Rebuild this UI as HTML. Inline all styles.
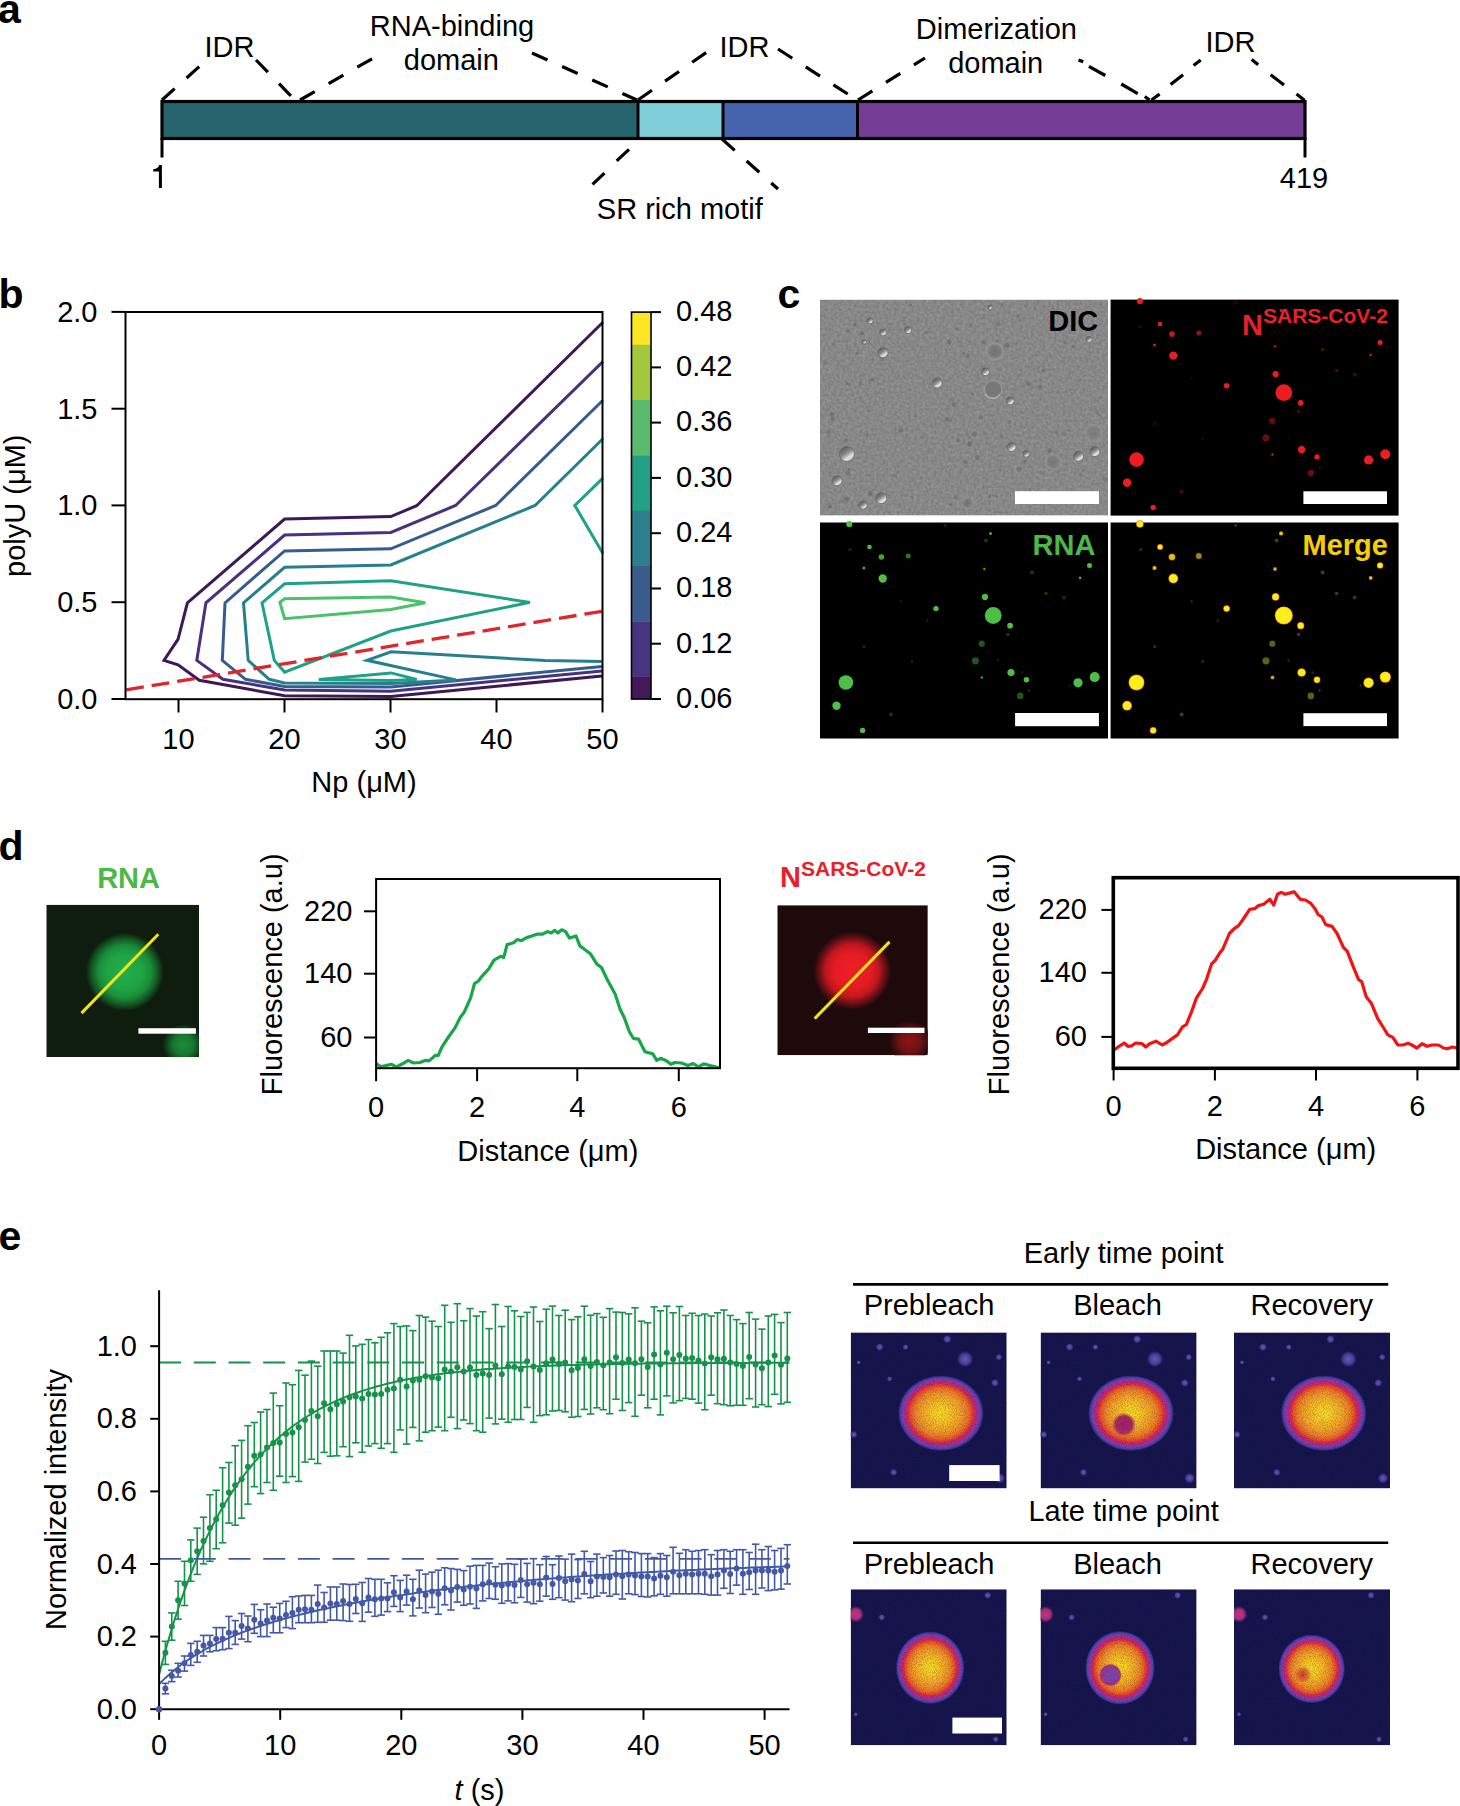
<!DOCTYPE html>
<html><head><meta charset="utf-8"><style>
html,body{margin:0;padding:0;background:#fff;overflow:hidden;}
svg{display:block;}
text{font-family:"Liberation Sans",sans-serif;}
</style></head><body>
<svg width="1460" height="1806" viewBox="0 0 1460 1806" font-family="Liberation Sans, sans-serif">
<defs><filter id="grain" x="0" y="0" width="100%" height="100%" color-interpolation-filters="sRGB">
<feTurbulence type="fractalNoise" baseFrequency="0.35" numOctaves="2" seed="3" result="n"/>
<feColorMatrix in="n" type="matrix" values="1.2 0 0 0 -0.07  1.2 0 0 0 -0.07  1.2 0 0 0 -0.07  0 0 0 0 1" result="g"/>
<feComposite in="g" in2="SourceGraphic" operator="in"/>
</filter><filter id="blur1"><feGaussianBlur stdDeviation="0.6"/></filter><filter id="blur2"><feGaussianBlur stdDeviation="1.2"/></filter><clipPath id="cdic"><rect x="820" y="299.6" width="288" height="216"/></clipPath><linearGradient id="dicg" x1="0.2" y1="0.1" x2="0.75" y2="0.9"><stop offset="0" stop-color="#5a5a5a"/><stop offset="0.45" stop-color="#8a8a8a"/><stop offset="0.8" stop-color="#e6e6e6"/><stop offset="1" stop-color="#bdbdbd"/></linearGradient><radialGradient id="dicr"><stop offset="0" stop-color="#6a6a6a"/><stop offset="0.6" stop-color="#7a7a7a"/><stop offset="0.85" stop-color="#9a9a9a"/><stop offset="1" stop-color="#888" stop-opacity="0"/></radialGradient><radialGradient id="gblob"><stop offset="0" stop-color="#22ae4a"/><stop offset="0.45" stop-color="#1fa444"/><stop offset="0.68" stop-color="#1a8c38"/><stop offset="0.84" stop-color="#145a24"/><stop offset="1" stop-color="#0f1d0f"/></radialGradient><radialGradient id="gblob2"><stop offset="0" stop-color="#1a8e3a"/><stop offset="0.5" stop-color="#167530"/><stop offset="1" stop-color="#0f1d0f"/></radialGradient><radialGradient id="rblob"><stop offset="0" stop-color="#f01e28"/><stop offset="0.45" stop-color="#e41c24"/><stop offset="0.68" stop-color="#c0161e"/><stop offset="0.84" stop-color="#6a1014"/><stop offset="1" stop-color="#1e0a0b"/></radialGradient><radialGradient id="rblob2"><stop offset="0" stop-color="#8a1418"/><stop offset="0.5" stop-color="#701216"/><stop offset="1" stop-color="#1e0a0b"/></radialGradient><clipPath id="cdg"><rect x="46.3" y="904.7" width="152.7" height="152.3"/></clipPath><clipPath id="cdr"><rect x="777.3" y="905.2" width="150.5" height="150.1"/></clipPath><radialGradient id="frap"><stop offset="0" stop-color="#fce024"/><stop offset="0.2" stop-color="#fbcc24"/><stop offset="0.45" stop-color="#f6a626"/><stop offset="0.6" stop-color="#f28426"/><stop offset="0.7" stop-color="#ec5a28"/><stop offset="0.77" stop-color="#dc2c46"/><stop offset="0.83" stop-color="#b82888"/><stop offset="0.89" stop-color="#8040b4"/><stop offset="0.95" stop-color="#4a40a2"/><stop offset="1" stop-color="#141349"/></radialGradient><radialGradient id="fdot"><stop offset="0" stop-color="#6a56b8"/><stop offset="0.6" stop-color="#4a3c98"/><stop offset="1" stop-color="#141349"/></radialGradient><radialGradient id="pdot"><stop offset="0" stop-color="#d0306a"/><stop offset="0.6" stop-color="#a03080"/><stop offset="1" stop-color="#141349"/></radialGradient><radialGradient id="bspot"><stop offset="0" stop-color="#a02070"/><stop offset="0.7" stop-color="#b02a60"/><stop offset="1" stop-color="#b02a60" stop-opacity="0"/></radialGradient><radialGradient id="bspot2"><stop offset="0" stop-color="#7a48aa"/><stop offset="0.6" stop-color="#8a44a4"/><stop offset="0.85" stop-color="#b03282"/><stop offset="1" stop-color="#c83060" stop-opacity="0"/></radialGradient><radialGradient id="bspot3"><stop offset="0" stop-color="#d03a30"/><stop offset="0.7" stop-color="#e05a2a" stop-opacity="0.6"/><stop offset="1" stop-color="#f08a2a" stop-opacity="0"/></radialGradient><filter id="speck" x="0" y="0" width="100%" height="100%" color-interpolation-filters="sRGB"><feTurbulence type="fractalNoise" baseFrequency="1.1" numOctaves="1" seed="9" result="n"/><feColorMatrix in="n" type="matrix" values="0 0 0 0 0.1  0 0 0 0 0.05  0 0 0 0 0.2  2.2 0 0 0 -0.9"/><feComposite in2="SourceGraphic" operator="in"/></filter><filter id="fnoise" x="0" y="0" width="100%" height="100%" color-interpolation-filters="sRGB"><feTurbulence type="fractalNoise" baseFrequency="0.8" numOctaves="1" seed="5" result="n"/><feColorMatrix in="n" type="matrix" values="0 0 0 0 0.16  0 0 0 0 0.14  0 0 0 0 0.4  1.2 0 0 0 -0.45"/><feComposite in2="SourceGraphic" operator="in"/></filter><clipPath id="cf8501332"><rect x="850.7" y="1332.4" width="156" height="156"/></clipPath><clipPath id="cf10401332"><rect x="1040.6" y="1332.4" width="156" height="156"/></clipPath><clipPath id="cf12341332"><rect x="1234" y="1332.4" width="156" height="156"/></clipPath><clipPath id="cf8501589"><rect x="850.7" y="1589.3" width="156" height="156"/></clipPath><clipPath id="cf10401589"><rect x="1040.6" y="1589.3" width="156" height="156"/></clipPath><clipPath id="cf12341589"><rect x="1234" y="1589.3" width="156" height="156"/></clipPath></defs>
<rect width="1460" height="1806" fill="#fff"/>
<text x="-2.0" y="22.6" font-size="41" text-anchor="start" font-weight="bold" fill="#000" >a</text>
<text x="-1.5" y="307.6" font-size="41" text-anchor="start" font-weight="bold" fill="#000" >b</text>
<text x="777.5" y="307.5" font-size="41" text-anchor="start" font-weight="bold" fill="#000" >c</text>
<text x="-1.5" y="860.3" font-size="41" text-anchor="start" font-weight="bold" fill="#000" >d</text>
<text x="-1.5" y="1249.8" font-size="41" text-anchor="start" font-weight="bold" fill="#000" >e</text>
<g id="pa">
<rect x="162" y="101.5" width="476" height="37" fill="#25646c"/>
<rect x="638" y="101.5" width="85" height="37" fill="#7ecfda"/>
<rect x="723" y="101.5" width="134.5" height="37" fill="#4663ad"/>
<rect x="857.5" y="101.5" width="447.5" height="37" fill="#763d96"/>
<rect x="162" y="101.5" width="1143" height="37" fill="none" stroke="#000" stroke-width="3.2"/>
<line x1="638.0" y1="101.5" x2="638.0" y2="138.5" stroke="#000" stroke-width="3" />
<line x1="723.0" y1="101.5" x2="723.0" y2="138.5" stroke="#000" stroke-width="3" />
<line x1="857.5" y1="101.5" x2="857.5" y2="138.5" stroke="#000" stroke-width="3" />
<line x1="162.0" y1="138.0" x2="162.0" y2="157.5" stroke="#000" stroke-width="3" />
<line x1="1305.0" y1="138.0" x2="1305.0" y2="157.5" stroke="#000" stroke-width="3" />
<line x1="162.0" y1="100.0" x2="201.0" y2="65.0" stroke="#000" stroke-width="3.2" stroke-dasharray="17 16"/>
<line x1="256.0" y1="60.0" x2="293.0" y2="98.0" stroke="#000" stroke-width="3.2" stroke-dasharray="17 16"/>
<line x1="300.0" y1="100.0" x2="376.0" y2="56.5" stroke="#000" stroke-width="3.2" stroke-dasharray="17 16"/>
<line x1="532.0" y1="53.0" x2="637.0" y2="100.0" stroke="#000" stroke-width="3.2" stroke-dasharray="17 16"/>
<line x1="638.0" y1="100.0" x2="707.0" y2="52.0" stroke="#000" stroke-width="3.2" stroke-dasharray="17 16"/>
<line x1="778.0" y1="49.0" x2="857.0" y2="100.0" stroke="#000" stroke-width="3.2" stroke-dasharray="17 16"/>
<line x1="858.0" y1="100.0" x2="925.0" y2="58.0" stroke="#000" stroke-width="3.2" stroke-dasharray="17 16"/>
<line x1="722.0" y1="139.0" x2="778.0" y2="189.0" stroke="#000" stroke-width="3.2" stroke-dasharray="17 16"/>
<line x1="629.0" y1="149.4" x2="616.7" y2="160.9" stroke="#000" stroke-width="3.2" />
<line x1="604.5" y1="173.1" x2="592.5" y2="184.3" stroke="#000" stroke-width="3.2" />
<line x1="1078.5" y1="59.9" x2="1083.2" y2="61.8" stroke="#000" stroke-width="3.2" />
<line x1="1088.9" y1="66.4" x2="1105.3" y2="75.5" stroke="#000" stroke-width="3.2" />
<line x1="1121.3" y1="84.0" x2="1137.7" y2="93.6" stroke="#000" stroke-width="3.2" />
<line x1="1144.8" y1="96.5" x2="1149.5" y2="100.0" stroke="#000" stroke-width="3.2" />
<line x1="1151.5" y1="100.0" x2="1159.6" y2="94.1" stroke="#000" stroke-width="3.2" />
<line x1="1170.6" y1="84.5" x2="1183.1" y2="74.7" stroke="#000" stroke-width="3.2" />
<line x1="1193.6" y1="65.6" x2="1200.7" y2="59.9" stroke="#000" stroke-width="3.2" />
<line x1="1251.7" y1="59.5" x2="1258.2" y2="64.8" stroke="#000" stroke-width="3.2" />
<line x1="1270.6" y1="74.7" x2="1284.0" y2="84.9" stroke="#000" stroke-width="3.2" />
<line x1="1296.5" y1="94.1" x2="1304.5" y2="100.2" stroke="#000" stroke-width="3.2" />
<text x="229.5" y="57.0" font-size="29" text-anchor="middle" font-weight="normal" fill="#000" >IDR</text>
<text x="452.0" y="35.6" font-size="29" text-anchor="middle" font-weight="normal" fill="#000" >RNA-binding</text>
<text x="451.4" y="70.0" font-size="29" text-anchor="middle" font-weight="normal" fill="#000" >domain</text>
<text x="744.5" y="57.0" font-size="29" text-anchor="middle" font-weight="normal" fill="#000" >IDR</text>
<text x="996.4" y="38.7" font-size="29" text-anchor="middle" font-weight="normal" fill="#000" >Dimerization</text>
<text x="995.7" y="73.0" font-size="29" text-anchor="middle" font-weight="normal" fill="#000" >domain</text>
<text x="1230.5" y="52.0" font-size="29" text-anchor="middle" font-weight="normal" fill="#000" >IDR</text>
<text x="679.8" y="219.0" font-size="29" text-anchor="middle" font-weight="normal" fill="#000" >SR rich motif</text>
<path d="M161.9,165.1 L161.9,187.9 L158.9,187.9 L158.9,171.6 L153.2,171.6 L153.2,169.2 C156.5,169.2 158.6,167.6 159.2,165.1 Z" fill="#000"/>
<text x="1304.0" y="187.7" font-size="29" text-anchor="middle" font-weight="normal" fill="#000" >419</text>
</g>
<g id="pb">
<polyline points="602.9,322.3 416.7,505.7 390.8,516.6 284.6,519.0 187.4,602.9 178.1,639.2 164.0,660.4 178.1,664.9 199.3,680.3 284.6,695.7 390.8,696.5 602.0,676.0" fill="none" stroke="#3f1856" stroke-width="3" stroke-linejoin="miter" />
<polyline points="602.9,361.6 455.6,505.5 390.8,532.4 284.6,535.0 205.9,602.9 196.8,660.4 222.9,679.3 284.6,690.0 390.8,691.2 602.0,670.9" fill="none" stroke="#46327e" stroke-width="3" stroke-linejoin="miter" />
<polyline points="602.9,400.3 495.7,505.5 390.8,548.8 284.6,550.9 225.0,602.9 222.3,660.4 245.5,679.3 284.6,686.5 390.8,687.0 602.0,666.4" fill="none" stroke="#365c8d" stroke-width="3" stroke-linejoin="miter" />
<polyline points="602.9,438.7 535.1,505.5 390.8,564.9 284.6,567.3 243.5,602.9 248.2,660.4 269.2,679.3 284.6,683.0 390.8,683.5 455.9,679.9 367.0,660.3 391.1,651.8 545.4,660.5 602.0,661.5" fill="none" stroke="#277f8e" stroke-width="3" stroke-linejoin="miter" />
<polygon points="262.0,602.9 284.6,583.8 390.8,580.7 529.9,602.4 390.8,631.0 284.6,672.1 274.3,660.4" fill="none" stroke="#1fa187" stroke-width="3" stroke-linejoin="miter" />
<polyline points="602.9,478.1 574.8,505.5 602.9,553.4" fill="none" stroke="#1fa187" stroke-width="3" stroke-linejoin="miter" />
<polygon points="318.8,679.5 391.1,672.9 416.7,679.5 391.1,680.5" fill="none" stroke="#1fa187" stroke-width="3" stroke-linejoin="miter" />
<polygon points="279.9,602.3 284.6,598.8 390.8,597.1 425.3,602.7 390.8,609.4 284.6,618.7" fill="none" stroke="#4ac16d" stroke-width="3" stroke-linejoin="miter" />
<line x1="125.5" y1="690.0" x2="602.5" y2="611.2" stroke="#e0262a" stroke-width="3.3" stroke-dasharray="17.8 8" stroke-dashoffset="-0.7"/>
<rect x="125.5" y="312" width="477.0" height="387.20000000000005" fill="none" stroke="#000" stroke-width="2"/>
<line x1="111.5" y1="699.0" x2="125.5" y2="699.0" stroke="#000" stroke-width="2" />
<text x="97.5" y="708.8" font-size="29" text-anchor="end" font-weight="normal" fill="#000" >0.0</text>
<line x1="111.5" y1="602.2" x2="125.5" y2="602.2" stroke="#000" stroke-width="2" />
<text x="97.5" y="612.0" font-size="29" text-anchor="end" font-weight="normal" fill="#000" >0.5</text>
<line x1="111.5" y1="505.4" x2="125.5" y2="505.4" stroke="#000" stroke-width="2" />
<text x="97.5" y="515.2" font-size="29" text-anchor="end" font-weight="normal" fill="#000" >1.0</text>
<line x1="111.5" y1="408.7" x2="125.5" y2="408.7" stroke="#000" stroke-width="2" />
<text x="97.5" y="418.5" font-size="29" text-anchor="end" font-weight="normal" fill="#000" >1.5</text>
<line x1="111.5" y1="311.9" x2="125.5" y2="311.9" stroke="#000" stroke-width="2" />
<text x="97.5" y="321.7" font-size="29" text-anchor="end" font-weight="normal" fill="#000" >2.0</text>
<line x1="178.5" y1="699.2" x2="178.5" y2="712.5" stroke="#000" stroke-width="2" />
<text x="178.5" y="748.9" font-size="29" text-anchor="middle" font-weight="normal" fill="#000" >10</text>
<line x1="284.5" y1="699.2" x2="284.5" y2="712.5" stroke="#000" stroke-width="2" />
<text x="284.5" y="748.9" font-size="29" text-anchor="middle" font-weight="normal" fill="#000" >20</text>
<line x1="390.5" y1="699.2" x2="390.5" y2="712.5" stroke="#000" stroke-width="2" />
<text x="390.5" y="748.9" font-size="29" text-anchor="middle" font-weight="normal" fill="#000" >30</text>
<line x1="496.5" y1="699.2" x2="496.5" y2="712.5" stroke="#000" stroke-width="2" />
<text x="496.5" y="748.9" font-size="29" text-anchor="middle" font-weight="normal" fill="#000" >40</text>
<line x1="602.5" y1="699.2" x2="602.5" y2="712.5" stroke="#000" stroke-width="2" />
<text x="602.5" y="748.9" font-size="29" text-anchor="middle" font-weight="normal" fill="#000" >50</text>
<text x="364.0" y="792.0" font-size="29" text-anchor="middle" font-weight="normal" fill="#000" >Np (μM)</text>
<text x="0" y="0" font-size="29" text-anchor="middle" transform="translate(25,505.7) rotate(-90)">polyU (μM)</text>
<rect x="631.5" y="312.1" width="19.5" height="33.0" fill="#fde725"/>
<rect x="631.5" y="344.8" width="19.5" height="55.5" fill="#a3c83e"/>
<rect x="631.5" y="400" width="19.5" height="55.6" fill="#5cba6e"/>
<rect x="631.5" y="455.3" width="19.5" height="55.7" fill="#22a187"/>
<rect x="631.5" y="510.7" width="19.5" height="55.6" fill="#2c7f8d"/>
<rect x="631.5" y="566" width="19.5" height="55.6" fill="#3a5c8c"/>
<rect x="631.5" y="621.3" width="19.5" height="55.5" fill="#48357f"/>
<rect x="631.5" y="676.5" width="19.5" height="22.8" fill="#45185a"/>
<rect x="631.5" y="312.1" width="19.5" height="386.9" fill="none" stroke="#000" stroke-width="1.6"/>
<line x1="651.0" y1="699.0" x2="661.0" y2="699.0" stroke="#000" stroke-width="2" />
<text x="676.0" y="707.8" font-size="29" text-anchor="start" font-weight="normal" fill="#000" >0.06</text>
<line x1="651.0" y1="643.7" x2="661.0" y2="643.7" stroke="#000" stroke-width="2" />
<text x="676.0" y="652.5" font-size="29" text-anchor="start" font-weight="normal" fill="#000" >0.12</text>
<line x1="651.0" y1="588.5" x2="661.0" y2="588.5" stroke="#000" stroke-width="2" />
<text x="676.0" y="597.3" font-size="29" text-anchor="start" font-weight="normal" fill="#000" >0.18</text>
<line x1="651.0" y1="533.2" x2="661.0" y2="533.2" stroke="#000" stroke-width="2" />
<text x="676.0" y="542.0" font-size="29" text-anchor="start" font-weight="normal" fill="#000" >0.24</text>
<line x1="651.0" y1="477.9" x2="661.0" y2="477.9" stroke="#000" stroke-width="2" />
<text x="676.0" y="486.7" font-size="29" text-anchor="start" font-weight="normal" fill="#000" >0.30</text>
<line x1="651.0" y1="422.6" x2="661.0" y2="422.6" stroke="#000" stroke-width="2" />
<text x="676.0" y="431.4" font-size="29" text-anchor="start" font-weight="normal" fill="#000" >0.36</text>
<line x1="651.0" y1="367.4" x2="661.0" y2="367.4" stroke="#000" stroke-width="2" />
<text x="676.0" y="376.2" font-size="29" text-anchor="start" font-weight="normal" fill="#000" >0.42</text>
<line x1="651.0" y1="312.1" x2="661.0" y2="312.1" stroke="#000" stroke-width="2" />
<text x="676.0" y="320.9" font-size="29" text-anchor="start" font-weight="normal" fill="#000" >0.48</text>
</g>
<g id="pc">
<g clip-path="url(#cdic)">
<rect x="820" y="299.6" width="288" height="216" fill="#888"/>
<rect x="820" y="299.6" width="288" height="216" fill="#888" filter="url(#grain)" opacity="0.13"/>
<circle cx="994.7" cy="351.5" r="10" fill="url(#dicr)" opacity="0.8"/>
<circle cx="974.5" cy="434.2" r="4.5" fill="url(#dicr)" opacity="0.9"/>
<circle cx="980.8" cy="417.2" r="4" fill="url(#dicr)" opacity="0.8"/>
<circle cx="1019.2" cy="469.1" r="4.5" fill="url(#dicr)" opacity="0.8"/>
<circle cx="1053" cy="462.1" r="9" fill="url(#dicr)" opacity="0.6"/>
<circle cx="1093.7" cy="433" r="10" fill="url(#dicr)" opacity="0.5"/>
<circle cx="967.5" cy="502.9" r="7" fill="url(#dicr)" opacity="0.7"/>
<circle cx="844.5" cy="499.4" r="7" fill="url(#dicr)" opacity="0.4"/>
<circle cx="1020" cy="320" r="3" fill="url(#dicr)" opacity="0.6"/>
<circle cx="905" cy="324" r="3" fill="url(#dicr)" opacity="0.6"/>
<circle cx="950" cy="350" r="2" fill="url(#dicr)" opacity="0.6"/>
<circle cx="840" cy="403" r="2" fill="url(#dicr)" opacity="0.6"/>
<circle cx="900" cy="410" r="2" fill="url(#dicr)" opacity="0.6"/>
<circle cx="950" cy="470" r="2" fill="url(#dicr)" opacity="0.6"/>
<circle cx="1000" cy="470" r="2.5" fill="url(#dicr)" opacity="0.6"/>
<circle cx="860" cy="440" r="2" fill="url(#dicr)" opacity="0.5"/>
<circle cx="1030" cy="490" r="3" fill="url(#dicr)" opacity="0.6"/>
<circle cx="1040" cy="380" r="3" fill="url(#dicr)" opacity="0.5"/>
<circle cx="1080" cy="380" r="2.5" fill="url(#dicr)" opacity="0.5"/>
<circle cx="1016" cy="540" r="2" fill="url(#dicr)" opacity="0.5"/>
<circle cx="950.5" cy="420.1" r="1.6" fill="#6a6a6a" opacity="0.53" filter="url(#blur1)"/>
<circle cx="1064.8" cy="342.1" r="2.0" fill="#6a6a6a" opacity="0.54" filter="url(#blur1)"/>
<circle cx="996.4" cy="341.3" r="1.6" fill="#6a6a6a" opacity="0.47" filter="url(#blur1)"/>
<circle cx="847.8" cy="472.8" r="2.4" fill="#6a6a6a" opacity="0.60" filter="url(#blur1)"/>
<circle cx="991.1" cy="385.6" r="1.6" fill="#6a6a6a" opacity="0.61" filter="url(#blur1)"/>
<circle cx="996.8" cy="335.2" r="0.9" fill="#6a6a6a" opacity="0.68" filter="url(#blur1)"/>
<circle cx="839.9" cy="309.5" r="1.1" fill="#6a6a6a" opacity="0.59" filter="url(#blur1)"/>
<circle cx="1043.0" cy="370.8" r="2.0" fill="#6a6a6a" opacity="0.69" filter="url(#blur1)"/>
<circle cx="969.4" cy="437.1" r="1.6" fill="#6a6a6a" opacity="0.35" filter="url(#blur1)"/>
<circle cx="846.1" cy="440.2" r="1.6" fill="#6a6a6a" opacity="0.75" filter="url(#blur1)"/>
<circle cx="1104.8" cy="479.3" r="2.4" fill="#6a6a6a" opacity="0.45" filter="url(#blur1)"/>
<circle cx="1037.3" cy="410.2" r="0.9" fill="#6a6a6a" opacity="0.38" filter="url(#blur1)"/>
<circle cx="1039.6" cy="386.5" r="1.3" fill="#6a6a6a" opacity="0.50" filter="url(#blur1)"/>
<circle cx="1094.1" cy="480.8" r="0.9" fill="#6a6a6a" opacity="0.44" filter="url(#blur1)"/>
<circle cx="928.6" cy="451.6" r="1.6" fill="#6a6a6a" opacity="0.38" filter="url(#blur1)"/>
<circle cx="1000.8" cy="466.3" r="1.3" fill="#6a6a6a" opacity="0.48" filter="url(#blur1)"/>
<circle cx="910.4" cy="305.2" r="1.6" fill="#6a6a6a" opacity="0.65" filter="url(#blur1)"/>
<circle cx="855.5" cy="354.0" r="0.9" fill="#6a6a6a" opacity="0.35" filter="url(#blur1)"/>
<circle cx="954.0" cy="404.7" r="2.4" fill="#6a6a6a" opacity="0.57" filter="url(#blur1)"/>
<circle cx="949.1" cy="342.2" r="2.4" fill="#6a6a6a" opacity="0.66" filter="url(#blur1)"/>
<circle cx="941.1" cy="383.0" r="1.6" fill="#6a6a6a" opacity="0.52" filter="url(#blur1)"/>
<circle cx="882.5" cy="358.9" r="2.0" fill="#6a6a6a" opacity="0.47" filter="url(#blur1)"/>
<circle cx="1073.3" cy="346.5" r="1.6" fill="#6a6a6a" opacity="0.75" filter="url(#blur1)"/>
<circle cx="993.0" cy="423.7" r="0.9" fill="#6a6a6a" opacity="0.75" filter="url(#blur1)"/>
<circle cx="882.6" cy="356.5" r="2.0" fill="#6a6a6a" opacity="0.48" filter="url(#blur1)"/>
<circle cx="906.2" cy="317.5" r="0.9" fill="#6a6a6a" opacity="0.43" filter="url(#blur1)"/>
<circle cx="1002.8" cy="305.3" r="1.3" fill="#6a6a6a" opacity="0.50" filter="url(#blur1)"/>
<circle cx="950.7" cy="504.4" r="1.6" fill="#6a6a6a" opacity="0.68" filter="url(#blur1)"/>
<circle cx="860.5" cy="383.5" r="2.4" fill="#6a6a6a" opacity="0.41" filter="url(#blur1)"/>
<circle cx="1080.0" cy="474.6" r="1.1" fill="#6a6a6a" opacity="0.64" filter="url(#blur1)"/>
<circle cx="867.0" cy="434.7" r="2.0" fill="#6a6a6a" opacity="0.43" filter="url(#blur1)"/>
<circle cx="993.4" cy="390.9" r="0.9" fill="#6a6a6a" opacity="0.39" filter="url(#blur1)"/>
<circle cx="967.5" cy="355.8" r="2.4" fill="#6a6a6a" opacity="0.63" filter="url(#blur1)"/>
<circle cx="895.0" cy="475.8" r="2.0" fill="#6a6a6a" opacity="0.55" filter="url(#blur1)"/>
<circle cx="969.7" cy="498.1" r="0.9" fill="#6a6a6a" opacity="0.40" filter="url(#blur1)"/>
<circle cx="958.1" cy="439.9" r="2.0" fill="#6a6a6a" opacity="0.60" filter="url(#blur1)"/>
<circle cx="901.6" cy="495.6" r="1.1" fill="#6a6a6a" opacity="0.65" filter="url(#blur1)"/>
<circle cx="841.6" cy="388.8" r="1.1" fill="#6a6a6a" opacity="0.37" filter="url(#blur1)"/>
<circle cx="872.1" cy="379.8" r="2.0" fill="#6a6a6a" opacity="0.74" filter="url(#blur1)"/>
<circle cx="848.2" cy="331.2" r="1.6" fill="#6a6a6a" opacity="0.74" filter="url(#blur1)"/>
<circle cx="1008.6" cy="447.8" r="2.0" fill="#6a6a6a" opacity="0.73" filter="url(#blur1)"/>
<circle cx="989.5" cy="496.9" r="1.6" fill="#6a6a6a" opacity="0.71" filter="url(#blur1)"/>
<circle cx="828.0" cy="436.2" r="1.6" fill="#6a6a6a" opacity="0.38" filter="url(#blur1)"/>
<circle cx="910.3" cy="330.8" r="0.9" fill="#6a6a6a" opacity="0.38" filter="url(#blur1)"/>
<circle cx="977.1" cy="457.5" r="2.4" fill="#6a6a6a" opacity="0.64" filter="url(#blur1)"/>
<circle cx="858.8" cy="505.3" r="1.3" fill="#6a6a6a" opacity="0.49" filter="url(#blur1)"/>
<circle cx="1069.4" cy="390.0" r="0.9" fill="#6a6a6a" opacity="0.70" filter="url(#blur1)"/>
<circle cx="984.7" cy="433.9" r="1.6" fill="#6a6a6a" opacity="0.50" filter="url(#blur1)"/>
<circle cx="825.5" cy="317.2" r="0.9" fill="#6a6a6a" opacity="0.61" filter="url(#blur1)"/>
<circle cx="1028.8" cy="384.0" r="2.4" fill="#6a6a6a" opacity="0.63" filter="url(#blur1)"/>
<circle cx="952.0" cy="399.6" r="2.0" fill="#6a6a6a" opacity="0.38" filter="url(#blur1)"/>
<circle cx="1035.1" cy="308.3" r="2.0" fill="#6a6a6a" opacity="0.39" filter="url(#blur1)"/>
<circle cx="828.3" cy="504.0" r="0.9" fill="#6a6a6a" opacity="0.55" filter="url(#blur1)"/>
<circle cx="996.5" cy="496.2" r="1.3" fill="#6a6a6a" opacity="0.71" filter="url(#blur1)"/>
<circle cx="926.5" cy="332.2" r="2.0" fill="#6a6a6a" opacity="0.43" filter="url(#blur1)"/>
<circle cx="870.2" cy="493.1" r="2.4" fill="#6a6a6a" opacity="0.72" filter="url(#blur1)"/>
<circle cx="963.5" cy="353.0" r="1.6" fill="#6a6a6a" opacity="0.62" filter="url(#blur1)"/>
<circle cx="878.4" cy="392.9" r="1.1" fill="#6a6a6a" opacity="0.70" filter="url(#blur1)"/>
<circle cx="931.2" cy="425.0" r="1.3" fill="#6a6a6a" opacity="0.43" filter="url(#blur1)"/>
<circle cx="860.2" cy="376.0" r="0.9" fill="#6a6a6a" opacity="0.63" filter="url(#blur1)"/>
<circle cx="1091.8" cy="360.4" r="1.1" fill="#6a6a6a" opacity="0.40" filter="url(#blur1)"/>
<circle cx="955.9" cy="497.3" r="1.6" fill="#6a6a6a" opacity="0.50" filter="url(#blur1)"/>
<circle cx="969.7" cy="443.8" r="2.4" fill="#6a6a6a" opacity="0.69" filter="url(#blur1)"/>
<circle cx="1100.9" cy="397.5" r="0.9" fill="#6a6a6a" opacity="0.68" filter="url(#blur1)"/>
<circle cx="901.0" cy="430.2" r="2.4" fill="#6a6a6a" opacity="0.63" filter="url(#blur1)"/>
<circle cx="984.0" cy="367.2" r="2.0" fill="#6a6a6a" opacity="0.36" filter="url(#blur1)"/>
<circle cx="860.6" cy="398.0" r="0.9" fill="#6a6a6a" opacity="0.66" filter="url(#blur1)"/>
<circle cx="897.7" cy="466.4" r="0.9" fill="#6a6a6a" opacity="0.74" filter="url(#blur1)"/>
<circle cx="854.7" cy="325.0" r="2.0" fill="#6a6a6a" opacity="0.61" filter="url(#blur1)"/>
<circle cx="1016.4" cy="344.1" r="1.6" fill="#6a6a6a" opacity="0.45" filter="url(#blur1)"/>
<circle cx="1024.8" cy="461.3" r="2.0" fill="#6a6a6a" opacity="0.64" filter="url(#blur1)"/>
<circle cx="872.9" cy="359.5" r="1.3" fill="#6a6a6a" opacity="0.57" filter="url(#blur1)"/>
<circle cx="1090.9" cy="407.6" r="1.1" fill="#6a6a6a" opacity="0.51" filter="url(#blur1)"/>
<circle cx="846.8" cy="498.8" r="2.4" fill="#6a6a6a" opacity="0.51" filter="url(#blur1)"/>
<circle cx="949.9" cy="343.5" r="0.9" fill="#6a6a6a" opacity="0.50" filter="url(#blur1)"/>
<circle cx="983.5" cy="487.5" r="1.3" fill="#6a6a6a" opacity="0.54" filter="url(#blur1)"/>
<circle cx="1007.0" cy="345.2" r="2.4" fill="#6a6a6a" opacity="0.70" filter="url(#blur1)"/>
<circle cx="857.1" cy="353.1" r="1.6" fill="#6a6a6a" opacity="0.74" filter="url(#blur1)"/>
<circle cx="1099.6" cy="415.3" r="1.3" fill="#6a6a6a" opacity="0.45" filter="url(#blur1)"/>
<circle cx="1026.0" cy="305.3" r="2.0" fill="#6a6a6a" opacity="0.38" filter="url(#blur1)"/>
<circle cx="947.2" cy="418.1" r="1.3" fill="#6a6a6a" opacity="0.54" filter="url(#blur1)"/>
<circle cx="830.1" cy="472.7" r="0.9" fill="#6a6a6a" opacity="0.52" filter="url(#blur1)"/>
<circle cx="832.0" cy="414.5" r="2.4" fill="#6a6a6a" opacity="0.67" filter="url(#blur1)"/>
<circle cx="861.9" cy="333.4" r="2.0" fill="#6a6a6a" opacity="0.71" filter="url(#blur1)"/>
<circle cx="969.2" cy="445.0" r="1.6" fill="#6a6a6a" opacity="0.73" filter="url(#blur1)"/>
<circle cx="961.9" cy="502.3" r="0.9" fill="#6a6a6a" opacity="0.65" filter="url(#blur1)"/>
<circle cx="946.8" cy="419.9" r="2.4" fill="#6a6a6a" opacity="0.57" filter="url(#blur1)"/>
<circle cx="868.7" cy="410.5" r="2.0" fill="#6a6a6a" opacity="0.45" filter="url(#blur1)"/>
<circle cx="1069.1" cy="430.6" r="1.3" fill="#6a6a6a" opacity="0.69" filter="url(#blur1)"/>
<circle cx="1097.0" cy="412.6" r="2.0" fill="#6a6a6a" opacity="0.55" filter="url(#blur1)"/>
<circle cx="938.7" cy="326.1" r="0.9" fill="#6a6a6a" opacity="0.59" filter="url(#blur1)"/>
<circle cx="829.9" cy="506.5" r="2.0" fill="#6a6a6a" opacity="0.72" filter="url(#blur1)"/>
<circle cx="976.5" cy="510.8" r="0.9" fill="#6a6a6a" opacity="0.55" filter="url(#blur1)"/>
<circle cx="1018.2" cy="315.9" r="2.0" fill="#6a6a6a" opacity="0.53" filter="url(#blur1)"/>
<circle cx="1083.5" cy="470.9" r="1.6" fill="#6a6a6a" opacity="0.46" filter="url(#blur1)"/>
<circle cx="956.4" cy="328.8" r="1.6" fill="#6a6a6a" opacity="0.71" filter="url(#blur1)"/>
<circle cx="971.1" cy="324.9" r="1.6" fill="#6a6a6a" opacity="0.60" filter="url(#blur1)"/>
<circle cx="1043.3" cy="306.8" r="1.1" fill="#6a6a6a" opacity="0.41" filter="url(#blur1)"/>
<circle cx="825.4" cy="361.9" r="2.4" fill="#6a6a6a" opacity="0.49" filter="url(#blur1)"/>
<circle cx="998.0" cy="324.1" r="2.4" fill="#6a6a6a" opacity="0.58" filter="url(#blur1)"/>
<circle cx="1063.9" cy="433.6" r="2.4" fill="#6a6a6a" opacity="0.43" filter="url(#blur1)"/>
<circle cx="972.6" cy="394.2" r="1.6" fill="#6a6a6a" opacity="0.60" filter="url(#blur1)"/>
<circle cx="1056.4" cy="431.9" r="2.0" fill="#6a6a6a" opacity="0.43" filter="url(#blur1)"/>
<circle cx="1001.3" cy="436.7" r="2.0" fill="#6a6a6a" opacity="0.44" filter="url(#blur1)"/>
<circle cx="976.2" cy="425.8" r="1.1" fill="#6a6a6a" opacity="0.44" filter="url(#blur1)"/>
<circle cx="1032.4" cy="473.0" r="1.1" fill="#6a6a6a" opacity="0.48" filter="url(#blur1)"/>
<circle cx="911.5" cy="496.7" r="1.1" fill="#6a6a6a" opacity="0.66" filter="url(#blur1)"/>
<circle cx="877.2" cy="322.4" r="1.1" fill="#6a6a6a" opacity="0.40" filter="url(#blur1)"/>
<circle cx="847.0" cy="383.8" r="1.6" fill="#6a6a6a" opacity="0.68" filter="url(#blur1)"/>
<circle cx="941.7" cy="468.7" r="1.1" fill="#6a6a6a" opacity="0.43" filter="url(#blur1)"/>
<circle cx="1000.3" cy="470.6" r="0.9" fill="#6a6a6a" opacity="0.43" filter="url(#blur1)"/>
<circle cx="965.6" cy="462.0" r="2.0" fill="#6a6a6a" opacity="0.75" filter="url(#blur1)"/>
<circle cx="1058.6" cy="471.4" r="1.6" fill="#6a6a6a" opacity="0.39" filter="url(#blur1)"/>
<circle cx="832.6" cy="418.4" r="2.0" fill="#6a6a6a" opacity="0.71" filter="url(#blur1)"/>
<circle cx="958.7" cy="342.0" r="0.9" fill="#6a6a6a" opacity="0.43" filter="url(#blur1)"/>
<circle cx="839.6" cy="502.8" r="1.6" fill="#6a6a6a" opacity="0.38" filter="url(#blur1)"/>
<circle cx="849.5" cy="384.5" r="1.6" fill="#6a6a6a" opacity="0.56" filter="url(#blur1)"/>
<circle cx="944.1" cy="428.8" r="0.9" fill="#6a6a6a" opacity="0.60" filter="url(#blur1)"/>
<circle cx="833.6" cy="344.3" r="1.6" fill="#6a6a6a" opacity="0.53" filter="url(#blur1)"/>
<circle cx="1032.0" cy="387.5" r="1.1" fill="#6a6a6a" opacity="0.59" filter="url(#blur1)"/>
<circle cx="848.9" cy="469.2" r="1.3" fill="#6a6a6a" opacity="0.71" filter="url(#blur1)"/>
<circle cx="1049.7" cy="450.7" r="2.4" fill="#6a6a6a" opacity="0.73" filter="url(#blur1)"/>
<circle cx="983.8" cy="342.3" r="2.0" fill="#6a6a6a" opacity="0.74" filter="url(#blur1)"/>
<circle cx="1050.6" cy="356.5" r="0.9" fill="#6a6a6a" opacity="0.65" filter="url(#blur1)"/>
<circle cx="1042.9" cy="473.9" r="1.6" fill="#6a6a6a" opacity="0.40" filter="url(#blur1)"/>
<circle cx="915.7" cy="415.7" r="1.3" fill="#6a6a6a" opacity="0.66" filter="url(#blur1)"/>
<circle cx="1039.3" cy="387.6" r="2.4" fill="#6a6a6a" opacity="0.42" filter="url(#blur1)"/>
<circle cx="1048.4" cy="365.7" r="0.9" fill="#6a6a6a" opacity="0.35" filter="url(#blur1)"/>
<circle cx="923.0" cy="436.8" r="2.0" fill="#6a6a6a" opacity="0.37" filter="url(#blur1)"/>
<circle cx="899.5" cy="504.9" r="1.3" fill="#6a6a6a" opacity="0.49" filter="url(#blur1)"/>
<circle cx="1009.4" cy="422.2" r="2.0" fill="#6a6a6a" opacity="0.38" filter="url(#blur1)"/>
<circle cx="968.2" cy="407.0" r="1.1" fill="#6a6a6a" opacity="0.63" filter="url(#blur1)"/>
<circle cx="828.5" cy="431.8" r="2.4" fill="#6a6a6a" opacity="0.44" filter="url(#blur1)"/>
<circle cx="948.0" cy="408.5" r="1.1" fill="#6a6a6a" opacity="0.61" filter="url(#blur1)"/>
<circle cx="993.1" cy="389.2" r="8.6" fill="#787878" stroke="#9c9c9c" stroke-width="1" filter="url(#blur1)"/>
<path d="M985,394 A8.6,8.6 0 0 0 1000,394" fill="none" stroke="#b0b0b0" stroke-width="1.3" filter="url(#blur1)"/>
<circle cx="883" cy="352.7" r="5" fill="url(#dicg)" stroke="#666" stroke-width="0.8" filter="url(#blur1)"/>
<circle cx="937.2" cy="383" r="5" fill="url(#dicg)" stroke="#666" stroke-width="0.8" filter="url(#blur1)"/>
<circle cx="985.4" cy="371.8" r="4" fill="url(#dicg)" stroke="#666" stroke-width="0.8" filter="url(#blur1)"/>
<circle cx="1010.3" cy="400.9" r="4" fill="url(#dicg)" stroke="#666" stroke-width="0.8" filter="url(#blur1)"/>
<circle cx="846.9" cy="454" r="7.5" fill="url(#dicg)" stroke="#666" stroke-width="0.8" filter="url(#blur1)"/>
<circle cx="837.1" cy="480.8" r="5" fill="url(#dicg)" stroke="#666" stroke-width="0.8" filter="url(#blur1)"/>
<circle cx="863.2" cy="505.2" r="4" fill="url(#dicg)" stroke="#666" stroke-width="0.8" filter="url(#blur1)"/>
<circle cx="881.3" cy="498.2" r="5.5" fill="url(#dicg)" stroke="#666" stroke-width="0.8" filter="url(#blur1)"/>
<circle cx="1011.5" cy="447" r="4.5" fill="url(#dicg)" stroke="#666" stroke-width="0.8" filter="url(#blur1)"/>
<circle cx="1026.2" cy="454" r="3.2" fill="url(#dicg)" stroke="#666" stroke-width="0.8" filter="url(#blur1)"/>
<circle cx="1078.6" cy="456.3" r="5" fill="url(#dicg)" stroke="#666" stroke-width="0.8" filter="url(#blur1)"/>
<circle cx="1094.9" cy="451.6" r="5" fill="url(#dicg)" stroke="#666" stroke-width="0.8" filter="url(#blur1)"/>
<circle cx="870.1" cy="320.8" r="3" fill="url(#dicg)" stroke="#666" stroke-width="0.8" filter="url(#blur1)"/>
<circle cx="883" cy="332.4" r="3.5" fill="url(#dicg)" stroke="#666" stroke-width="0.8" filter="url(#blur1)"/>
<circle cx="908.1" cy="330.1" r="3.5" fill="url(#dicg)" stroke="#666" stroke-width="0.8" filter="url(#blur1)"/>
<circle cx="864.3" cy="341.7" r="2.3" fill="url(#dicg)" stroke="#666" stroke-width="0.8" filter="url(#blur1)"/>
<circle cx="1089" cy="339.4" r="3" fill="url(#dicg)" stroke="#666" stroke-width="0.8" filter="url(#blur1)"/>
<circle cx="990.1" cy="307.3" r="2.3" fill="url(#dicg)" stroke="#666" stroke-width="0.8" filter="url(#blur1)"/>
</g>
<rect x="1015" y="491.2" width="84" height="12.8" fill="#fff"/>
<text x="1073.3" y="331.0" font-size="29" text-anchor="middle" font-weight="bold" fill="#000" >DIC</text>
<rect x="1110.6" y="299.6" width="288" height="216" fill="#000"/>
<g transform="translate(1110.6,299.6)" filter="url(#blur1)">
<circle cx="173.2" cy="93" r="8.4" fill="#eb1e24"/>
<circle cx="25.9" cy="160" r="7.3" fill="#eb1e24"/>
<circle cx="62.7" cy="56" r="4.2" fill="#eb1e24"/>
<circle cx="16.5" cy="183.2" r="4.2" fill="#eb1e24"/>
<circle cx="258" cy="160.3" r="4.6" fill="#eb1e24"/>
<circle cx="274.7" cy="154.6" r="5.0" fill="#eb1e24"/>
<circle cx="191" cy="150" r="3.6" fill="#eb1e24"/>
<circle cx="206.4" cy="157.3" r="2.7" fill="#eb1e24"/>
<circle cx="165" cy="74.4" r="3.1" fill="#eb1e24"/>
<circle cx="116" cy="86.1" r="2.7" fill="#eb1e24"/>
<circle cx="190.1" cy="103.2" r="2.9" fill="#eb1e24"/>
<circle cx="42.6" cy="207.9" r="2.7" fill="#eb1e24"/>
<circle cx="49.5" cy="24.5" r="2.3" fill="#eb1e24"/>
<circle cx="61.4" cy="34.5" r="2.8" fill="#c7191e"/>
<circle cx="88.2" cy="33.5" r="2.5" fill="#8d1215"/>
<circle cx="29.3" cy="1.5" r="3.1" fill="#eb1e24"/>
<circle cx="269.5" cy="42.9" r="2.5" fill="#eb1e24"/>
<circle cx="260.1" cy="55.4" r="1.3" fill="#d31b20"/>
<circle cx="43.9" cy="45.4" r="1.5" fill="#d31b20"/>
<circle cx="170.5" cy="10.9" r="1.5" fill="#d31b20"/>
<circle cx="164.4" cy="46.6" r="1.3" fill="#bc181c"/>
<circle cx="161.7" cy="121.2" r="3.1" fill="#690d10"/>
<circle cx="155.4" cy="138.3" r="3.6" fill="#690d10"/>
<circle cx="200.2" cy="173.4" r="3.3" fill="#690d10"/>
<circle cx="161.9" cy="155" r="1.3" fill="#bc181c"/>
<circle cx="166" cy="18" r="2" fill="#46090a"/>
<circle cx="212" cy="50" r="2" fill="#46090a"/>
<circle cx="226" cy="71" r="1.8" fill="#46090a"/>
<circle cx="244" cy="75" r="2" fill="#3a0709"/>
<circle cx="71" cy="192" r="2" fill="#46090a"/>
<circle cx="44" cy="124" r="1.5" fill="#3a0709"/>
<circle cx="92" cy="139" r="1.5" fill="#2f0607"/>
<circle cx="30" cy="27" r="1.5" fill="#3a0709"/>
<circle cx="125" cy="3" r="1.5" fill="#3a0709"/>
<circle cx="209" cy="168" r="1.2" fill="#46090a"/>
<circle cx="188" cy="112" r="1.8" fill="#46090a"/>
<circle cx="202" cy="150" r="1.2" fill="#2f0607"/>
<circle cx="250" cy="163" r="1.2" fill="#2f0607"/>
<circle cx="81" cy="79" r="1.2" fill="#2f0607"/>
<circle cx="107" cy="98" r="1.2" fill="#2f0607"/>
<circle cx="178" cy="138" r="1.2" fill="#2f0607"/>
</g>
<rect x="1303.4" y="491.3" width="83.6" height="12.7" fill="#fff"/>
<text x="1242" y="335" font-size="29" font-weight="bold" fill="#e8202a">N<tspan font-size="21" dy="-12.2">SARS-CoV-2</tspan></text>
<rect x="820" y="522.5" width="288" height="216" fill="#000"/>
<g transform="translate(820,522.5)" filter="url(#blur1)">
<circle cx="173.2" cy="93" r="8.4" fill="#50be46"/>
<circle cx="25.9" cy="160" r="7.3" fill="#50be46"/>
<circle cx="62.7" cy="56" r="4.2" fill="#50be46"/>
<circle cx="16.5" cy="183.2" r="4.2" fill="#50be46"/>
<circle cx="258" cy="160.3" r="4.6" fill="#50be46"/>
<circle cx="274.7" cy="154.6" r="5.0" fill="#50be46"/>
<circle cx="191" cy="150" r="3.6" fill="#50be46"/>
<circle cx="206.4" cy="157.3" r="2.7" fill="#50be46"/>
<circle cx="165" cy="74.4" r="3.1" fill="#50be46"/>
<circle cx="116" cy="86.1" r="2.7" fill="#50be46"/>
<circle cx="190.1" cy="103.2" r="2.9" fill="#50be46"/>
<circle cx="42.6" cy="207.9" r="2.7" fill="#50be46"/>
<circle cx="49.5" cy="24.5" r="2.3" fill="#50be46"/>
<circle cx="61.4" cy="34.5" r="2.8" fill="#44a13b"/>
<circle cx="88.2" cy="33.5" r="2.5" fill="#30722a"/>
<circle cx="29.3" cy="1.5" r="3.1" fill="#50be46"/>
<circle cx="269.5" cy="42.9" r="2.5" fill="#50be46"/>
<circle cx="260.1" cy="55.4" r="1.3" fill="#48ab3f"/>
<circle cx="43.9" cy="45.4" r="1.5" fill="#48ab3f"/>
<circle cx="170.5" cy="10.9" r="1.5" fill="#48ab3f"/>
<circle cx="164.4" cy="46.6" r="1.3" fill="#409838"/>
<circle cx="161.7" cy="121.2" r="3.1" fill="#24551f"/>
<circle cx="155.4" cy="138.3" r="3.6" fill="#24551f"/>
<circle cx="200.2" cy="173.4" r="3.3" fill="#24551f"/>
<circle cx="161.9" cy="155" r="1.3" fill="#409838"/>
<circle cx="166" cy="18" r="2" fill="#183915"/>
<circle cx="212" cy="50" r="2" fill="#183915"/>
<circle cx="226" cy="71" r="1.8" fill="#183915"/>
<circle cx="244" cy="75" r="2" fill="#142f11"/>
<circle cx="71" cy="192" r="2" fill="#183915"/>
<circle cx="44" cy="124" r="1.5" fill="#142f11"/>
<circle cx="92" cy="139" r="1.5" fill="#10260e"/>
<circle cx="30" cy="27" r="1.5" fill="#142f11"/>
<circle cx="125" cy="3" r="1.5" fill="#142f11"/>
<circle cx="209" cy="168" r="1.2" fill="#183915"/>
<circle cx="188" cy="112" r="1.8" fill="#183915"/>
<circle cx="202" cy="150" r="1.2" fill="#10260e"/>
<circle cx="250" cy="163" r="1.2" fill="#10260e"/>
<circle cx="81" cy="79" r="1.2" fill="#10260e"/>
<circle cx="107" cy="98" r="1.2" fill="#10260e"/>
<circle cx="178" cy="138" r="1.2" fill="#10260e"/>
</g>
<rect x="1015.1" y="713" width="83.8" height="13.2" fill="#fff"/>
<text x="1064.0" y="554.5" font-size="29" text-anchor="middle" font-weight="bold" fill="#4cb848" >RNA</text>
<rect x="1110.6" y="522.5" width="288" height="216" fill="#000"/>
<g transform="translate(1110.6,522.5)" filter="url(#blur1)">
<circle cx="173.2" cy="93" r="9.1" fill="#eb7814"/>
<circle cx="173.2" cy="93" r="8.4" fill="#faee1e"/>
<circle cx="25.9" cy="160" r="8.0" fill="#eb7814"/>
<circle cx="25.9" cy="160" r="7.3" fill="#faee1e"/>
<circle cx="62.7" cy="56" r="4.9" fill="#eb7814"/>
<circle cx="62.7" cy="56" r="4.2" fill="#faee1e"/>
<circle cx="16.5" cy="183.2" r="4.9" fill="#eb7814"/>
<circle cx="16.5" cy="183.2" r="4.2" fill="#faee1e"/>
<circle cx="258" cy="160.3" r="5.3" fill="#eb7814"/>
<circle cx="258" cy="160.3" r="4.6" fill="#faee1e"/>
<circle cx="274.7" cy="154.6" r="5.7" fill="#eb7814"/>
<circle cx="274.7" cy="154.6" r="5.0" fill="#faee1e"/>
<circle cx="191" cy="150" r="4.3" fill="#eb7814"/>
<circle cx="191" cy="150" r="3.6" fill="#faee1e"/>
<circle cx="206.4" cy="157.3" r="3.4000000000000004" fill="#eb7814"/>
<circle cx="206.4" cy="157.3" r="2.7" fill="#faee1e"/>
<circle cx="165" cy="74.4" r="3.8" fill="#eb7814"/>
<circle cx="165" cy="74.4" r="3.1" fill="#faee1e"/>
<circle cx="116" cy="86.1" r="3.4000000000000004" fill="#eb7814"/>
<circle cx="116" cy="86.1" r="2.7" fill="#faee1e"/>
<circle cx="190.1" cy="103.2" r="3.5999999999999996" fill="#eb7814"/>
<circle cx="190.1" cy="103.2" r="2.9" fill="#faee1e"/>
<circle cx="42.6" cy="207.9" r="3.4000000000000004" fill="#eb7814"/>
<circle cx="42.6" cy="207.9" r="2.7" fill="#faee1e"/>
<circle cx="49.5" cy="24.5" r="3.0" fill="#eb7814"/>
<circle cx="49.5" cy="24.5" r="2.3" fill="#faee1e"/>
<circle cx="61.4" cy="34.5" r="3.5" fill="#c76611"/>
<circle cx="61.4" cy="34.5" r="2.8" fill="#d4ca19"/>
<circle cx="88.2" cy="33.5" r="3.2" fill="#8d480c"/>
<circle cx="88.2" cy="33.5" r="2.5" fill="#968e12"/>
<circle cx="29.3" cy="1.5" r="3.8" fill="#eb7814"/>
<circle cx="29.3" cy="1.5" r="3.1" fill="#faee1e"/>
<circle cx="269.5" cy="42.9" r="3.2" fill="#eb7814"/>
<circle cx="269.5" cy="42.9" r="2.5" fill="#faee1e"/>
<circle cx="260.1" cy="55.4" r="2.0" fill="#d36c12"/>
<circle cx="260.1" cy="55.4" r="1.3" fill="#e1d61b"/>
<circle cx="43.9" cy="45.4" r="2.2" fill="#d36c12"/>
<circle cx="43.9" cy="45.4" r="1.5" fill="#e1d61b"/>
<circle cx="170.5" cy="10.9" r="2.2" fill="#d36c12"/>
<circle cx="170.5" cy="10.9" r="1.5" fill="#e1d61b"/>
<circle cx="164.4" cy="46.6" r="2.0" fill="#bc6010"/>
<circle cx="164.4" cy="46.6" r="1.3" fill="#c8be18"/>
<circle cx="161.7" cy="121.2" r="3.1" fill="#5e5e1b"/>
<circle cx="155.4" cy="138.3" r="3.6" fill="#5e5e1b"/>
<circle cx="200.2" cy="173.4" r="3.3" fill="#5e5e1b"/>
<circle cx="161.9" cy="155" r="2.0" fill="#bc6010"/>
<circle cx="161.9" cy="155" r="1.3" fill="#c8be18"/>
<circle cx="166" cy="18" r="2" fill="#3e3e12"/>
<circle cx="212" cy="50" r="2" fill="#3e3e12"/>
<circle cx="226" cy="71" r="1.8" fill="#3e3e12"/>
<circle cx="244" cy="75" r="2" fill="#34340f"/>
<circle cx="71" cy="192" r="2" fill="#3e3e12"/>
<circle cx="44" cy="124" r="1.5" fill="#34340f"/>
<circle cx="92" cy="139" r="1.5" fill="#2a2a0c"/>
<circle cx="30" cy="27" r="1.5" fill="#34340f"/>
<circle cx="125" cy="3" r="1.5" fill="#34340f"/>
<circle cx="209" cy="168" r="1.2" fill="#3e3e12"/>
<circle cx="188" cy="112" r="1.8" fill="#3e3e12"/>
<circle cx="202" cy="150" r="1.2" fill="#2a2a0c"/>
<circle cx="250" cy="163" r="1.2" fill="#2a2a0c"/>
<circle cx="81" cy="79" r="1.2" fill="#2a2a0c"/>
<circle cx="107" cy="98" r="1.2" fill="#2a2a0c"/>
<circle cx="178" cy="138" r="1.2" fill="#2a2a0c"/>
</g>
<rect x="1303.4" y="713.2" width="83.6" height="12.9" fill="#fff"/>
<text x="1345.2" y="555.2" font-size="29" text-anchor="middle" font-weight="bold" fill="#f5d000" >Merge</text>
</g>
<g id="pd">
<g clip-path="url(#cdg)"><rect x="46.3" y="904.7" width="152.7" height="152.3" fill="#0f1d0f"/>
<circle cx="124.7" cy="971.9" r="39" fill="url(#gblob)"/>
<circle cx="183.4" cy="1045" r="21" fill="url(#gblob2)"/></g>
<line x1="81.5" y1="1013.1" x2="158.3" y2="934.2" stroke="#f2e21c" stroke-width="3" />
<rect x="138.4" y="1028.2" width="57.5" height="5.5" fill="#fff"/>
<text x="128.6" y="887.5" font-size="29" text-anchor="middle" font-weight="bold" fill="#4cb848" >RNA</text>
<g clip-path="url(#cdr)"><rect x="777.3" y="905.2" width="150.5" height="150.1" fill="#1e0a0b"/>
<circle cx="852.3" cy="970.7" r="39" fill="url(#rblob)"/>
<circle cx="909.8" cy="1041.4" r="21" fill="url(#rblob2)"/></g>
<line x1="814.7" y1="1018.6" x2="889.5" y2="941.9" stroke="#f2e21c" stroke-width="3" />
<rect x="867.9" y="1027.7" width="56.6" height="5.3" fill="#fff"/>
<text x="780" y="887" font-size="29" font-weight="bold" fill="#e8202a">N<tspan font-size="21" dy="-11.5">SARS-CoV-2</tspan></text>
<polyline points="376.1,1063.5 380.8,1066.9 386.0,1065.6 391.2,1064.3 396.4,1066.9 401.6,1064.3 408.2,1060.4 413.4,1063.0 419.9,1062.5 425.1,1060.4 429.0,1060.9 435.5,1055.2 438.1,1055.7 442.0,1046.9 448.5,1037.0 455.0,1027.9 460.2,1017.5 464.1,1012.3 470.6,997.9 474.5,983.6 478.4,981.0 482.3,975.8 488.8,968.8 494.0,960.2 500.6,956.3 503.7,957.6 507.1,944.6 513.6,942.8 517.5,939.4 521.4,940.7 526.6,937.6 531.8,936.0 537.0,934.2 542.2,934.2 547.4,931.6 551.3,932.9 554.7,930.3 557.8,932.9 561.7,929.8 565.6,931.6 569.5,938.1 576.0,936.0 579.9,945.9 585.1,949.8 590.3,953.7 596.9,964.1 601.5,967.5 607.3,979.7 615.1,994.0 620.3,1009.7 624.2,1017.5 629.4,1031.8 633.3,1038.3 638.5,1039.1 645.0,1051.8 652.8,1053.9 656.7,1060.4 660.6,1058.3 665.8,1060.4 671.0,1064.3 674.9,1062.5 681.4,1063.0 688.0,1065.6 693.2,1063.5 698.4,1066.9 703.6,1063.8 710.1,1065.6 719.2,1067.7" fill="none" stroke="#19a64b" stroke-width="3.2" stroke-linejoin="round"/>
<rect x="376.1" y="879" width="343.9" height="189.20000000000005" fill="none" stroke="#000" stroke-width="2"/>
<line x1="364.0" y1="911.3" x2="376.1" y2="911.3" stroke="#000" stroke-width="2" />
<text x="352.5" y="920.6" font-size="29" text-anchor="end" font-weight="normal" fill="#000" >220</text>
<line x1="364.0" y1="973.7" x2="376.1" y2="973.7" stroke="#000" stroke-width="2" />
<text x="352.5" y="983.0" font-size="29" text-anchor="end" font-weight="normal" fill="#000" >140</text>
<line x1="364.0" y1="1037.5" x2="376.1" y2="1037.5" stroke="#000" stroke-width="2" />
<text x="352.5" y="1046.8" font-size="29" text-anchor="end" font-weight="normal" fill="#000" >60</text>
<line x1="376.1" y1="1068.2" x2="376.1" y2="1081.2" stroke="#000" stroke-width="2" />
<text x="376.1" y="1117.2" font-size="29" text-anchor="middle" font-weight="normal" fill="#000" >0</text>
<line x1="477.1" y1="1068.2" x2="477.1" y2="1081.2" stroke="#000" stroke-width="2" />
<text x="477.1" y="1117.2" font-size="29" text-anchor="middle" font-weight="normal" fill="#000" >2</text>
<line x1="577.3" y1="1068.2" x2="577.3" y2="1081.2" stroke="#000" stroke-width="2" />
<text x="577.3" y="1117.2" font-size="29" text-anchor="middle" font-weight="normal" fill="#000" >4</text>
<line x1="678.8" y1="1068.2" x2="678.8" y2="1081.2" stroke="#000" stroke-width="2" />
<text x="678.8" y="1117.2" font-size="29" text-anchor="middle" font-weight="normal" fill="#000" >6</text>
<text x="547.8" y="1160.6" font-size="29" text-anchor="middle" font-weight="normal" fill="#000" >Distance (μm)</text>
<text x="0" y="0" font-size="29" text-anchor="middle" transform="translate(281.5,974.3) rotate(-90)">Fluorescence (a.u)</text>
<polyline points="1114.1,1050.1 1119.1,1046.3 1124.2,1043.0 1128.0,1046.3 1131.8,1045.8 1135.6,1043.0 1142.0,1043.7 1145.8,1047.0 1149.6,1043.7 1155.9,1041.2 1162.2,1045.0 1166.0,1043.0 1171.1,1039.4 1177.4,1034.9 1182.5,1026.8 1186.3,1024.7 1191.4,1012.1 1196.4,998.1 1202.8,988.0 1206.6,979.1 1211.6,963.9 1215.4,960.1 1219.2,953.8 1223.0,948.7 1229.4,933.5 1234.5,928.4 1238.3,925.9 1242.1,920.8 1244.6,917.0 1249.7,909.4 1254.7,908.7 1258.5,905.6 1263.6,904.3 1269.9,899.3 1273.7,905.1 1277.5,894.2 1281.3,892.4 1285.1,894.2 1290.2,892.9 1294.0,891.7 1300.3,899.3 1305.4,900.0 1310.5,903.1 1315.5,909.4 1318.1,914.5 1321.9,917.0 1325.7,924.6 1332.0,926.4 1337.1,933.5 1343.4,947.4 1347.2,951.2 1353.6,967.7 1358.6,979.6 1361.7,981.6 1366.2,996.8 1371.3,1003.2 1377.6,1018.4 1384.0,1028.5 1387.8,1034.9 1392.8,1037.4 1397.9,1045.0 1403.0,1045.0 1408.0,1043.2 1411.8,1045.0 1416.9,1048.0 1422.0,1043.7 1427.1,1046.3 1432.1,1045.0 1438.5,1045.0 1443.5,1048.0 1447.3,1048.8 1452.4,1047.0 1457.5,1048.0" fill="none" stroke="#f01414" stroke-width="3.2" stroke-linejoin="round"/>
<rect x="1113.3" y="877.7" width="344.70000000000005" height="190.5999999999999" fill="none" stroke="#000" stroke-width="3.6"/>
<line x1="1101.4" y1="909.9" x2="1113.3" y2="909.9" stroke="#000" stroke-width="2" />
<text x="1087.0" y="919.2" font-size="29" text-anchor="end" font-weight="normal" fill="#000" >220</text>
<line x1="1101.4" y1="972.8" x2="1113.3" y2="972.8" stroke="#000" stroke-width="2" />
<text x="1087.0" y="982.1" font-size="29" text-anchor="end" font-weight="normal" fill="#000" >140</text>
<line x1="1101.4" y1="1036.9" x2="1113.3" y2="1036.9" stroke="#000" stroke-width="2" />
<text x="1087.0" y="1046.2" font-size="29" text-anchor="end" font-weight="normal" fill="#000" >60</text>
<line x1="1113.6" y1="1068.3" x2="1113.6" y2="1080.5" stroke="#000" stroke-width="2" />
<text x="1113.6" y="1116.0" font-size="29" text-anchor="middle" font-weight="normal" fill="#000" >0</text>
<line x1="1214.9" y1="1068.3" x2="1214.9" y2="1080.5" stroke="#000" stroke-width="2" />
<text x="1214.9" y="1116.0" font-size="29" text-anchor="middle" font-weight="normal" fill="#000" >2</text>
<line x1="1316.0" y1="1068.3" x2="1316.0" y2="1080.5" stroke="#000" stroke-width="2" />
<text x="1316.0" y="1116.0" font-size="29" text-anchor="middle" font-weight="normal" fill="#000" >4</text>
<line x1="1417.4" y1="1068.3" x2="1417.4" y2="1080.5" stroke="#000" stroke-width="2" />
<text x="1417.4" y="1116.0" font-size="29" text-anchor="middle" font-weight="normal" fill="#000" >6</text>
<text x="1285.7" y="1159.0" font-size="29" text-anchor="middle" font-weight="normal" fill="#000" >Distance (μm)</text>
<text x="0" y="0" font-size="29" text-anchor="middle" transform="translate(1009,974.3) rotate(-90)">Fluorescence (a.u)</text>
</g>
<g id="pe">
<line x1="165.4" y1="1641.3" x2="165.4" y2="1664.4" stroke="#17924a" stroke-width="1.6" />
<line x1="161.7" y1="1641.3" x2="169.1" y2="1641.3" stroke="#17924a" stroke-width="1.6" />
<line x1="161.7" y1="1664.4" x2="169.1" y2="1664.4" stroke="#17924a" stroke-width="1.6" />
<line x1="171.8" y1="1612.9" x2="171.8" y2="1640.2" stroke="#17924a" stroke-width="1.6" />
<line x1="168.1" y1="1612.9" x2="175.5" y2="1612.9" stroke="#17924a" stroke-width="1.6" />
<line x1="168.1" y1="1640.2" x2="175.5" y2="1640.2" stroke="#17924a" stroke-width="1.6" />
<line x1="178.1" y1="1581.3" x2="178.1" y2="1619.2" stroke="#17924a" stroke-width="1.6" />
<line x1="174.4" y1="1581.3" x2="181.8" y2="1581.3" stroke="#17924a" stroke-width="1.6" />
<line x1="174.4" y1="1619.2" x2="181.8" y2="1619.2" stroke="#17924a" stroke-width="1.6" />
<line x1="184.5" y1="1561.3" x2="184.5" y2="1605.5" stroke="#17924a" stroke-width="1.6" />
<line x1="180.8" y1="1561.3" x2="188.2" y2="1561.3" stroke="#17924a" stroke-width="1.6" />
<line x1="180.8" y1="1605.5" x2="188.2" y2="1605.5" stroke="#17924a" stroke-width="1.6" />
<line x1="190.8" y1="1539.9" x2="190.8" y2="1581.3" stroke="#17924a" stroke-width="1.6" />
<line x1="187.1" y1="1539.9" x2="194.5" y2="1539.9" stroke="#17924a" stroke-width="1.6" />
<line x1="187.1" y1="1581.3" x2="194.5" y2="1581.3" stroke="#17924a" stroke-width="1.6" />
<line x1="197.2" y1="1528.1" x2="197.2" y2="1574.4" stroke="#17924a" stroke-width="1.6" />
<line x1="193.5" y1="1528.1" x2="200.9" y2="1528.1" stroke="#17924a" stroke-width="1.6" />
<line x1="193.5" y1="1574.4" x2="200.9" y2="1574.4" stroke="#17924a" stroke-width="1.6" />
<line x1="203.5" y1="1517.2" x2="203.5" y2="1563.9" stroke="#17924a" stroke-width="1.6" />
<line x1="199.8" y1="1517.2" x2="207.2" y2="1517.2" stroke="#17924a" stroke-width="1.6" />
<line x1="199.8" y1="1563.9" x2="207.2" y2="1563.9" stroke="#17924a" stroke-width="1.6" />
<line x1="209.9" y1="1494.7" x2="209.9" y2="1561.3" stroke="#17924a" stroke-width="1.6" />
<line x1="206.2" y1="1494.7" x2="213.6" y2="1494.7" stroke="#17924a" stroke-width="1.6" />
<line x1="206.2" y1="1561.3" x2="213.6" y2="1561.3" stroke="#17924a" stroke-width="1.6" />
<line x1="216.2" y1="1490.3" x2="216.2" y2="1548.7" stroke="#17924a" stroke-width="1.6" />
<line x1="212.5" y1="1490.3" x2="219.9" y2="1490.3" stroke="#17924a" stroke-width="1.6" />
<line x1="212.5" y1="1548.7" x2="219.9" y2="1548.7" stroke="#17924a" stroke-width="1.6" />
<line x1="222.6" y1="1467.7" x2="222.6" y2="1542.8" stroke="#17924a" stroke-width="1.6" />
<line x1="218.9" y1="1467.7" x2="226.3" y2="1467.7" stroke="#17924a" stroke-width="1.6" />
<line x1="218.9" y1="1542.8" x2="226.3" y2="1542.8" stroke="#17924a" stroke-width="1.6" />
<line x1="228.9" y1="1462.5" x2="228.9" y2="1523.1" stroke="#17924a" stroke-width="1.6" />
<line x1="225.2" y1="1462.5" x2="232.6" y2="1462.5" stroke="#17924a" stroke-width="1.6" />
<line x1="225.2" y1="1523.1" x2="232.6" y2="1523.1" stroke="#17924a" stroke-width="1.6" />
<line x1="235.2" y1="1445.7" x2="235.2" y2="1525.2" stroke="#17924a" stroke-width="1.6" />
<line x1="231.5" y1="1445.7" x2="238.9" y2="1445.7" stroke="#17924a" stroke-width="1.6" />
<line x1="231.5" y1="1525.2" x2="238.9" y2="1525.2" stroke="#17924a" stroke-width="1.6" />
<line x1="241.6" y1="1440.4" x2="241.6" y2="1518.2" stroke="#17924a" stroke-width="1.6" />
<line x1="237.9" y1="1440.4" x2="245.3" y2="1440.4" stroke="#17924a" stroke-width="1.6" />
<line x1="237.9" y1="1518.2" x2="245.3" y2="1518.2" stroke="#17924a" stroke-width="1.6" />
<line x1="247.9" y1="1425.7" x2="247.9" y2="1504.1" stroke="#17924a" stroke-width="1.6" />
<line x1="244.2" y1="1425.7" x2="251.6" y2="1425.7" stroke="#17924a" stroke-width="1.6" />
<line x1="244.2" y1="1504.1" x2="251.6" y2="1504.1" stroke="#17924a" stroke-width="1.6" />
<line x1="254.3" y1="1422.5" x2="254.3" y2="1486.7" stroke="#17924a" stroke-width="1.6" />
<line x1="250.6" y1="1422.5" x2="258.0" y2="1422.5" stroke="#17924a" stroke-width="1.6" />
<line x1="250.6" y1="1486.7" x2="258.0" y2="1486.7" stroke="#17924a" stroke-width="1.6" />
<line x1="260.6" y1="1412.0" x2="260.6" y2="1493.6" stroke="#17924a" stroke-width="1.6" />
<line x1="256.9" y1="1412.0" x2="264.3" y2="1412.0" stroke="#17924a" stroke-width="1.6" />
<line x1="256.9" y1="1493.6" x2="264.3" y2="1493.6" stroke="#17924a" stroke-width="1.6" />
<line x1="267.0" y1="1409.5" x2="267.0" y2="1482.5" stroke="#17924a" stroke-width="1.6" />
<line x1="263.3" y1="1409.5" x2="270.7" y2="1409.5" stroke="#17924a" stroke-width="1.6" />
<line x1="263.3" y1="1482.5" x2="270.7" y2="1482.5" stroke="#17924a" stroke-width="1.6" />
<line x1="273.3" y1="1393.1" x2="273.3" y2="1490.3" stroke="#17924a" stroke-width="1.6" />
<line x1="269.6" y1="1393.1" x2="277.0" y2="1393.1" stroke="#17924a" stroke-width="1.6" />
<line x1="269.6" y1="1490.3" x2="277.0" y2="1490.3" stroke="#17924a" stroke-width="1.6" />
<line x1="279.7" y1="1405.7" x2="279.7" y2="1476.2" stroke="#17924a" stroke-width="1.6" />
<line x1="276.0" y1="1405.7" x2="283.4" y2="1405.7" stroke="#17924a" stroke-width="1.6" />
<line x1="276.0" y1="1476.2" x2="283.4" y2="1476.2" stroke="#17924a" stroke-width="1.6" />
<line x1="286.0" y1="1383.0" x2="286.0" y2="1482.5" stroke="#17924a" stroke-width="1.6" />
<line x1="282.3" y1="1383.0" x2="289.7" y2="1383.0" stroke="#17924a" stroke-width="1.6" />
<line x1="282.3" y1="1482.5" x2="289.7" y2="1482.5" stroke="#17924a" stroke-width="1.6" />
<line x1="292.4" y1="1384.7" x2="292.4" y2="1476.6" stroke="#17924a" stroke-width="1.6" />
<line x1="288.7" y1="1384.7" x2="296.1" y2="1384.7" stroke="#17924a" stroke-width="1.6" />
<line x1="288.7" y1="1476.6" x2="296.1" y2="1476.6" stroke="#17924a" stroke-width="1.6" />
<line x1="298.7" y1="1370.4" x2="298.7" y2="1481.4" stroke="#17924a" stroke-width="1.6" />
<line x1="295.0" y1="1370.4" x2="302.4" y2="1370.4" stroke="#17924a" stroke-width="1.6" />
<line x1="295.0" y1="1481.4" x2="302.4" y2="1481.4" stroke="#17924a" stroke-width="1.6" />
<line x1="305.0" y1="1375.2" x2="305.0" y2="1462.1" stroke="#17924a" stroke-width="1.6" />
<line x1="301.3" y1="1375.2" x2="308.7" y2="1375.2" stroke="#17924a" stroke-width="1.6" />
<line x1="301.3" y1="1462.1" x2="308.7" y2="1462.1" stroke="#17924a" stroke-width="1.6" />
<line x1="311.4" y1="1361.1" x2="311.4" y2="1459.3" stroke="#17924a" stroke-width="1.6" />
<line x1="307.7" y1="1361.1" x2="315.1" y2="1361.1" stroke="#17924a" stroke-width="1.6" />
<line x1="307.7" y1="1459.3" x2="315.1" y2="1459.3" stroke="#17924a" stroke-width="1.6" />
<line x1="317.7" y1="1366.2" x2="317.7" y2="1463.5" stroke="#17924a" stroke-width="1.6" />
<line x1="314.0" y1="1366.2" x2="321.4" y2="1366.2" stroke="#17924a" stroke-width="1.6" />
<line x1="314.0" y1="1463.5" x2="321.4" y2="1463.5" stroke="#17924a" stroke-width="1.6" />
<line x1="324.1" y1="1351.0" x2="324.1" y2="1452.4" stroke="#17924a" stroke-width="1.6" />
<line x1="320.4" y1="1351.0" x2="327.8" y2="1351.0" stroke="#17924a" stroke-width="1.6" />
<line x1="320.4" y1="1452.4" x2="327.8" y2="1452.4" stroke="#17924a" stroke-width="1.6" />
<line x1="330.4" y1="1351.0" x2="330.4" y2="1456.2" stroke="#17924a" stroke-width="1.6" />
<line x1="326.7" y1="1351.0" x2="334.1" y2="1351.0" stroke="#17924a" stroke-width="1.6" />
<line x1="326.7" y1="1456.2" x2="334.1" y2="1456.2" stroke="#17924a" stroke-width="1.6" />
<line x1="336.8" y1="1351.0" x2="336.8" y2="1455.8" stroke="#17924a" stroke-width="1.6" />
<line x1="333.1" y1="1351.0" x2="340.5" y2="1351.0" stroke="#17924a" stroke-width="1.6" />
<line x1="333.1" y1="1455.8" x2="340.5" y2="1455.8" stroke="#17924a" stroke-width="1.6" />
<line x1="343.1" y1="1353.1" x2="343.1" y2="1446.7" stroke="#17924a" stroke-width="1.6" />
<line x1="339.4" y1="1353.1" x2="346.8" y2="1353.1" stroke="#17924a" stroke-width="1.6" />
<line x1="339.4" y1="1446.7" x2="346.8" y2="1446.7" stroke="#17924a" stroke-width="1.6" />
<line x1="349.5" y1="1335.3" x2="349.5" y2="1456.6" stroke="#17924a" stroke-width="1.6" />
<line x1="345.8" y1="1335.3" x2="353.2" y2="1335.3" stroke="#17924a" stroke-width="1.6" />
<line x1="345.8" y1="1456.6" x2="353.2" y2="1456.6" stroke="#17924a" stroke-width="1.6" />
<line x1="355.8" y1="1345.9" x2="355.8" y2="1442.8" stroke="#17924a" stroke-width="1.6" />
<line x1="352.1" y1="1345.9" x2="359.5" y2="1345.9" stroke="#17924a" stroke-width="1.6" />
<line x1="352.1" y1="1442.8" x2="359.5" y2="1442.8" stroke="#17924a" stroke-width="1.6" />
<line x1="362.2" y1="1344.3" x2="362.2" y2="1452.3" stroke="#17924a" stroke-width="1.6" />
<line x1="358.5" y1="1344.3" x2="365.9" y2="1344.3" stroke="#17924a" stroke-width="1.6" />
<line x1="358.5" y1="1452.3" x2="365.9" y2="1452.3" stroke="#17924a" stroke-width="1.6" />
<line x1="368.5" y1="1339.6" x2="368.5" y2="1446.0" stroke="#17924a" stroke-width="1.6" />
<line x1="364.8" y1="1339.6" x2="372.2" y2="1339.6" stroke="#17924a" stroke-width="1.6" />
<line x1="364.8" y1="1446.0" x2="372.2" y2="1446.0" stroke="#17924a" stroke-width="1.6" />
<line x1="374.9" y1="1342.8" x2="374.9" y2="1443.6" stroke="#17924a" stroke-width="1.6" />
<line x1="371.2" y1="1342.8" x2="378.6" y2="1342.8" stroke="#17924a" stroke-width="1.6" />
<line x1="371.2" y1="1443.6" x2="378.6" y2="1443.6" stroke="#17924a" stroke-width="1.6" />
<line x1="381.2" y1="1337.3" x2="381.2" y2="1448.3" stroke="#17924a" stroke-width="1.6" />
<line x1="377.5" y1="1337.3" x2="384.9" y2="1337.3" stroke="#17924a" stroke-width="1.6" />
<line x1="377.5" y1="1448.3" x2="384.9" y2="1448.3" stroke="#17924a" stroke-width="1.6" />
<line x1="387.5" y1="1332.8" x2="387.5" y2="1443.6" stroke="#17924a" stroke-width="1.6" />
<line x1="383.8" y1="1332.8" x2="391.2" y2="1332.8" stroke="#17924a" stroke-width="1.6" />
<line x1="383.8" y1="1443.6" x2="391.2" y2="1443.6" stroke="#17924a" stroke-width="1.6" />
<line x1="393.9" y1="1323.6" x2="393.9" y2="1452.3" stroke="#17924a" stroke-width="1.6" />
<line x1="390.2" y1="1323.6" x2="397.6" y2="1323.6" stroke="#17924a" stroke-width="1.6" />
<line x1="390.2" y1="1452.3" x2="397.6" y2="1452.3" stroke="#17924a" stroke-width="1.6" />
<line x1="400.2" y1="1326.5" x2="400.2" y2="1429.9" stroke="#17924a" stroke-width="1.6" />
<line x1="396.5" y1="1326.5" x2="403.9" y2="1326.5" stroke="#17924a" stroke-width="1.6" />
<line x1="396.5" y1="1429.9" x2="403.9" y2="1429.9" stroke="#17924a" stroke-width="1.6" />
<line x1="406.6" y1="1325.9" x2="406.6" y2="1444.1" stroke="#17924a" stroke-width="1.6" />
<line x1="402.9" y1="1325.9" x2="410.3" y2="1325.9" stroke="#17924a" stroke-width="1.6" />
<line x1="402.9" y1="1444.1" x2="410.3" y2="1444.1" stroke="#17924a" stroke-width="1.6" />
<line x1="412.9" y1="1330.6" x2="412.9" y2="1427.4" stroke="#17924a" stroke-width="1.6" />
<line x1="409.2" y1="1330.6" x2="416.6" y2="1330.6" stroke="#17924a" stroke-width="1.6" />
<line x1="409.2" y1="1427.4" x2="416.6" y2="1427.4" stroke="#17924a" stroke-width="1.6" />
<line x1="419.3" y1="1315.5" x2="419.3" y2="1440.9" stroke="#17924a" stroke-width="1.6" />
<line x1="415.6" y1="1315.5" x2="423.0" y2="1315.5" stroke="#17924a" stroke-width="1.6" />
<line x1="415.6" y1="1440.9" x2="423.0" y2="1440.9" stroke="#17924a" stroke-width="1.6" />
<line x1="425.6" y1="1317.1" x2="425.6" y2="1432.2" stroke="#17924a" stroke-width="1.6" />
<line x1="421.9" y1="1317.1" x2="429.3" y2="1317.1" stroke="#17924a" stroke-width="1.6" />
<line x1="421.9" y1="1432.2" x2="429.3" y2="1432.2" stroke="#17924a" stroke-width="1.6" />
<line x1="432.0" y1="1321.2" x2="432.0" y2="1430.7" stroke="#17924a" stroke-width="1.6" />
<line x1="428.3" y1="1321.2" x2="435.7" y2="1321.2" stroke="#17924a" stroke-width="1.6" />
<line x1="428.3" y1="1430.7" x2="435.7" y2="1430.7" stroke="#17924a" stroke-width="1.6" />
<line x1="438.3" y1="1326.5" x2="438.3" y2="1427.1" stroke="#17924a" stroke-width="1.6" />
<line x1="434.6" y1="1326.5" x2="442.0" y2="1326.5" stroke="#17924a" stroke-width="1.6" />
<line x1="434.6" y1="1427.1" x2="442.0" y2="1427.1" stroke="#17924a" stroke-width="1.6" />
<line x1="444.7" y1="1305.3" x2="444.7" y2="1430.7" stroke="#17924a" stroke-width="1.6" />
<line x1="441.0" y1="1305.3" x2="448.4" y2="1305.3" stroke="#17924a" stroke-width="1.6" />
<line x1="441.0" y1="1430.7" x2="448.4" y2="1430.7" stroke="#17924a" stroke-width="1.6" />
<line x1="451.0" y1="1322.3" x2="451.0" y2="1417.3" stroke="#17924a" stroke-width="1.6" />
<line x1="447.3" y1="1322.3" x2="454.7" y2="1322.3" stroke="#17924a" stroke-width="1.6" />
<line x1="447.3" y1="1417.3" x2="454.7" y2="1417.3" stroke="#17924a" stroke-width="1.6" />
<line x1="457.3" y1="1303.7" x2="457.3" y2="1428.6" stroke="#17924a" stroke-width="1.6" />
<line x1="453.6" y1="1303.7" x2="461.0" y2="1303.7" stroke="#17924a" stroke-width="1.6" />
<line x1="453.6" y1="1428.6" x2="461.0" y2="1428.6" stroke="#17924a" stroke-width="1.6" />
<line x1="463.7" y1="1320.7" x2="463.7" y2="1420.0" stroke="#17924a" stroke-width="1.6" />
<line x1="460.0" y1="1320.7" x2="467.4" y2="1320.7" stroke="#17924a" stroke-width="1.6" />
<line x1="460.0" y1="1420.0" x2="467.4" y2="1420.0" stroke="#17924a" stroke-width="1.6" />
<line x1="470.0" y1="1308.6" x2="470.0" y2="1423.6" stroke="#17924a" stroke-width="1.6" />
<line x1="466.3" y1="1308.6" x2="473.7" y2="1308.6" stroke="#17924a" stroke-width="1.6" />
<line x1="466.3" y1="1423.6" x2="473.7" y2="1423.6" stroke="#17924a" stroke-width="1.6" />
<line x1="476.4" y1="1316.0" x2="476.4" y2="1430.7" stroke="#17924a" stroke-width="1.6" />
<line x1="472.7" y1="1316.0" x2="480.1" y2="1316.0" stroke="#17924a" stroke-width="1.6" />
<line x1="472.7" y1="1430.7" x2="480.1" y2="1430.7" stroke="#17924a" stroke-width="1.6" />
<line x1="482.7" y1="1311.7" x2="482.7" y2="1432.2" stroke="#17924a" stroke-width="1.6" />
<line x1="479.0" y1="1311.7" x2="486.4" y2="1311.7" stroke="#17924a" stroke-width="1.6" />
<line x1="479.0" y1="1432.2" x2="486.4" y2="1432.2" stroke="#17924a" stroke-width="1.6" />
<line x1="489.1" y1="1328.6" x2="489.1" y2="1418.1" stroke="#17924a" stroke-width="1.6" />
<line x1="485.4" y1="1328.6" x2="492.8" y2="1328.6" stroke="#17924a" stroke-width="1.6" />
<line x1="485.4" y1="1418.1" x2="492.8" y2="1418.1" stroke="#17924a" stroke-width="1.6" />
<line x1="495.4" y1="1304.5" x2="495.4" y2="1423.9" stroke="#17924a" stroke-width="1.6" />
<line x1="491.7" y1="1304.5" x2="499.1" y2="1304.5" stroke="#17924a" stroke-width="1.6" />
<line x1="491.7" y1="1423.9" x2="499.1" y2="1423.9" stroke="#17924a" stroke-width="1.6" />
<line x1="501.8" y1="1326.5" x2="501.8" y2="1419.2" stroke="#17924a" stroke-width="1.6" />
<line x1="498.1" y1="1326.5" x2="505.5" y2="1326.5" stroke="#17924a" stroke-width="1.6" />
<line x1="498.1" y1="1419.2" x2="505.5" y2="1419.2" stroke="#17924a" stroke-width="1.6" />
<line x1="508.1" y1="1306.5" x2="508.1" y2="1422.3" stroke="#17924a" stroke-width="1.6" />
<line x1="504.4" y1="1306.5" x2="511.8" y2="1306.5" stroke="#17924a" stroke-width="1.6" />
<line x1="504.4" y1="1422.3" x2="511.8" y2="1422.3" stroke="#17924a" stroke-width="1.6" />
<line x1="514.5" y1="1310.8" x2="514.5" y2="1419.5" stroke="#17924a" stroke-width="1.6" />
<line x1="510.8" y1="1310.8" x2="518.2" y2="1310.8" stroke="#17924a" stroke-width="1.6" />
<line x1="510.8" y1="1419.5" x2="518.2" y2="1419.5" stroke="#17924a" stroke-width="1.6" />
<line x1="520.8" y1="1316.5" x2="520.8" y2="1419.5" stroke="#17924a" stroke-width="1.6" />
<line x1="517.1" y1="1316.5" x2="524.5" y2="1316.5" stroke="#17924a" stroke-width="1.6" />
<line x1="517.1" y1="1419.5" x2="524.5" y2="1419.5" stroke="#17924a" stroke-width="1.6" />
<line x1="527.1" y1="1312.4" x2="527.1" y2="1407.4" stroke="#17924a" stroke-width="1.6" />
<line x1="523.4" y1="1312.4" x2="530.8" y2="1312.4" stroke="#17924a" stroke-width="1.6" />
<line x1="523.4" y1="1407.4" x2="530.8" y2="1407.4" stroke="#17924a" stroke-width="1.6" />
<line x1="533.5" y1="1307.0" x2="533.5" y2="1422.3" stroke="#17924a" stroke-width="1.6" />
<line x1="529.8" y1="1307.0" x2="537.2" y2="1307.0" stroke="#17924a" stroke-width="1.6" />
<line x1="529.8" y1="1422.3" x2="537.2" y2="1422.3" stroke="#17924a" stroke-width="1.6" />
<line x1="539.8" y1="1321.5" x2="539.8" y2="1415.6" stroke="#17924a" stroke-width="1.6" />
<line x1="536.1" y1="1321.5" x2="543.5" y2="1321.5" stroke="#17924a" stroke-width="1.6" />
<line x1="536.1" y1="1415.6" x2="543.5" y2="1415.6" stroke="#17924a" stroke-width="1.6" />
<line x1="546.2" y1="1309.2" x2="546.2" y2="1414.8" stroke="#17924a" stroke-width="1.6" />
<line x1="542.5" y1="1309.2" x2="549.9" y2="1309.2" stroke="#17924a" stroke-width="1.6" />
<line x1="542.5" y1="1414.8" x2="549.9" y2="1414.8" stroke="#17924a" stroke-width="1.6" />
<line x1="552.5" y1="1306.1" x2="552.5" y2="1411.0" stroke="#17924a" stroke-width="1.6" />
<line x1="548.8" y1="1306.1" x2="556.2" y2="1306.1" stroke="#17924a" stroke-width="1.6" />
<line x1="548.8" y1="1411.0" x2="556.2" y2="1411.0" stroke="#17924a" stroke-width="1.6" />
<line x1="558.9" y1="1315.5" x2="558.9" y2="1410.5" stroke="#17924a" stroke-width="1.6" />
<line x1="555.2" y1="1315.5" x2="562.6" y2="1315.5" stroke="#17924a" stroke-width="1.6" />
<line x1="555.2" y1="1410.5" x2="562.6" y2="1410.5" stroke="#17924a" stroke-width="1.6" />
<line x1="565.2" y1="1310.2" x2="565.2" y2="1411.8" stroke="#17924a" stroke-width="1.6" />
<line x1="561.5" y1="1310.2" x2="568.9" y2="1310.2" stroke="#17924a" stroke-width="1.6" />
<line x1="561.5" y1="1411.8" x2="568.9" y2="1411.8" stroke="#17924a" stroke-width="1.6" />
<line x1="571.6" y1="1319.6" x2="571.6" y2="1417.3" stroke="#17924a" stroke-width="1.6" />
<line x1="567.9" y1="1319.6" x2="575.3" y2="1319.6" stroke="#17924a" stroke-width="1.6" />
<line x1="567.9" y1="1417.3" x2="575.3" y2="1417.3" stroke="#17924a" stroke-width="1.6" />
<line x1="577.9" y1="1316.8" x2="577.9" y2="1416.5" stroke="#17924a" stroke-width="1.6" />
<line x1="574.2" y1="1316.8" x2="581.6" y2="1316.8" stroke="#17924a" stroke-width="1.6" />
<line x1="574.2" y1="1416.5" x2="581.6" y2="1416.5" stroke="#17924a" stroke-width="1.6" />
<line x1="584.3" y1="1306.2" x2="584.3" y2="1409.4" stroke="#17924a" stroke-width="1.6" />
<line x1="580.6" y1="1306.2" x2="588.0" y2="1306.2" stroke="#17924a" stroke-width="1.6" />
<line x1="580.6" y1="1409.4" x2="588.0" y2="1409.4" stroke="#17924a" stroke-width="1.6" />
<line x1="590.6" y1="1315.2" x2="590.6" y2="1414.0" stroke="#17924a" stroke-width="1.6" />
<line x1="586.9" y1="1315.2" x2="594.3" y2="1315.2" stroke="#17924a" stroke-width="1.6" />
<line x1="586.9" y1="1414.0" x2="594.3" y2="1414.0" stroke="#17924a" stroke-width="1.6" />
<line x1="596.9" y1="1313.6" x2="596.9" y2="1407.8" stroke="#17924a" stroke-width="1.6" />
<line x1="593.2" y1="1313.6" x2="600.6" y2="1313.6" stroke="#17924a" stroke-width="1.6" />
<line x1="593.2" y1="1407.8" x2="600.6" y2="1407.8" stroke="#17924a" stroke-width="1.6" />
<line x1="603.3" y1="1317.3" x2="603.3" y2="1409.7" stroke="#17924a" stroke-width="1.6" />
<line x1="599.6" y1="1317.3" x2="607.0" y2="1317.3" stroke="#17924a" stroke-width="1.6" />
<line x1="599.6" y1="1409.7" x2="607.0" y2="1409.7" stroke="#17924a" stroke-width="1.6" />
<line x1="609.6" y1="1308.6" x2="609.6" y2="1413.7" stroke="#17924a" stroke-width="1.6" />
<line x1="605.9" y1="1308.6" x2="613.3" y2="1308.6" stroke="#17924a" stroke-width="1.6" />
<line x1="605.9" y1="1413.7" x2="613.3" y2="1413.7" stroke="#17924a" stroke-width="1.6" />
<line x1="616.0" y1="1312.1" x2="616.0" y2="1399.2" stroke="#17924a" stroke-width="1.6" />
<line x1="612.3" y1="1312.1" x2="619.7" y2="1312.1" stroke="#17924a" stroke-width="1.6" />
<line x1="612.3" y1="1399.2" x2="619.7" y2="1399.2" stroke="#17924a" stroke-width="1.6" />
<line x1="622.3" y1="1312.5" x2="622.3" y2="1410.5" stroke="#17924a" stroke-width="1.6" />
<line x1="618.6" y1="1312.5" x2="626.0" y2="1312.5" stroke="#17924a" stroke-width="1.6" />
<line x1="618.6" y1="1410.5" x2="626.0" y2="1410.5" stroke="#17924a" stroke-width="1.6" />
<line x1="628.7" y1="1313.9" x2="628.7" y2="1402.6" stroke="#17924a" stroke-width="1.6" />
<line x1="625.0" y1="1313.9" x2="632.4" y2="1313.9" stroke="#17924a" stroke-width="1.6" />
<line x1="625.0" y1="1402.6" x2="632.4" y2="1402.6" stroke="#17924a" stroke-width="1.6" />
<line x1="635.0" y1="1307.8" x2="635.0" y2="1416.3" stroke="#17924a" stroke-width="1.6" />
<line x1="631.3" y1="1307.8" x2="638.7" y2="1307.8" stroke="#17924a" stroke-width="1.6" />
<line x1="631.3" y1="1416.3" x2="638.7" y2="1416.3" stroke="#17924a" stroke-width="1.6" />
<line x1="641.4" y1="1321.2" x2="641.4" y2="1395.2" stroke="#17924a" stroke-width="1.6" />
<line x1="637.7" y1="1321.2" x2="645.1" y2="1321.2" stroke="#17924a" stroke-width="1.6" />
<line x1="637.7" y1="1395.2" x2="645.1" y2="1395.2" stroke="#17924a" stroke-width="1.6" />
<line x1="647.7" y1="1322.8" x2="647.7" y2="1407.8" stroke="#17924a" stroke-width="1.6" />
<line x1="644.0" y1="1322.8" x2="651.4" y2="1322.8" stroke="#17924a" stroke-width="1.6" />
<line x1="644.0" y1="1407.8" x2="651.4" y2="1407.8" stroke="#17924a" stroke-width="1.6" />
<line x1="654.1" y1="1306.9" x2="654.1" y2="1399.2" stroke="#17924a" stroke-width="1.6" />
<line x1="650.4" y1="1306.9" x2="657.8" y2="1306.9" stroke="#17924a" stroke-width="1.6" />
<line x1="650.4" y1="1399.2" x2="657.8" y2="1399.2" stroke="#17924a" stroke-width="1.6" />
<line x1="660.4" y1="1310.8" x2="660.4" y2="1414.9" stroke="#17924a" stroke-width="1.6" />
<line x1="656.7" y1="1310.8" x2="664.1" y2="1310.8" stroke="#17924a" stroke-width="1.6" />
<line x1="656.7" y1="1414.9" x2="664.1" y2="1414.9" stroke="#17924a" stroke-width="1.6" />
<line x1="666.8" y1="1306.2" x2="666.8" y2="1395.9" stroke="#17924a" stroke-width="1.6" />
<line x1="663.1" y1="1306.2" x2="670.5" y2="1306.2" stroke="#17924a" stroke-width="1.6" />
<line x1="663.1" y1="1395.9" x2="670.5" y2="1395.9" stroke="#17924a" stroke-width="1.6" />
<line x1="673.1" y1="1312.8" x2="673.1" y2="1402.9" stroke="#17924a" stroke-width="1.6" />
<line x1="669.4" y1="1312.8" x2="676.8" y2="1312.8" stroke="#17924a" stroke-width="1.6" />
<line x1="669.4" y1="1402.9" x2="676.8" y2="1402.9" stroke="#17924a" stroke-width="1.6" />
<line x1="679.4" y1="1306.5" x2="679.4" y2="1400.7" stroke="#17924a" stroke-width="1.6" />
<line x1="675.7" y1="1306.5" x2="683.1" y2="1306.5" stroke="#17924a" stroke-width="1.6" />
<line x1="675.7" y1="1400.7" x2="683.1" y2="1400.7" stroke="#17924a" stroke-width="1.6" />
<line x1="685.8" y1="1315.5" x2="685.8" y2="1398.4" stroke="#17924a" stroke-width="1.6" />
<line x1="682.1" y1="1315.5" x2="689.5" y2="1315.5" stroke="#17924a" stroke-width="1.6" />
<line x1="682.1" y1="1398.4" x2="689.5" y2="1398.4" stroke="#17924a" stroke-width="1.6" />
<line x1="692.1" y1="1313.3" x2="692.1" y2="1399.2" stroke="#17924a" stroke-width="1.6" />
<line x1="688.4" y1="1313.3" x2="695.8" y2="1313.3" stroke="#17924a" stroke-width="1.6" />
<line x1="688.4" y1="1399.2" x2="695.8" y2="1399.2" stroke="#17924a" stroke-width="1.6" />
<line x1="698.5" y1="1315.5" x2="698.5" y2="1403.1" stroke="#17924a" stroke-width="1.6" />
<line x1="694.8" y1="1315.5" x2="702.2" y2="1315.5" stroke="#17924a" stroke-width="1.6" />
<line x1="694.8" y1="1403.1" x2="702.2" y2="1403.1" stroke="#17924a" stroke-width="1.6" />
<line x1="704.8" y1="1314.1" x2="704.8" y2="1409.7" stroke="#17924a" stroke-width="1.6" />
<line x1="701.1" y1="1314.1" x2="708.5" y2="1314.1" stroke="#17924a" stroke-width="1.6" />
<line x1="701.1" y1="1409.7" x2="708.5" y2="1409.7" stroke="#17924a" stroke-width="1.6" />
<line x1="711.2" y1="1316.0" x2="711.2" y2="1395.2" stroke="#17924a" stroke-width="1.6" />
<line x1="707.5" y1="1316.0" x2="714.9" y2="1316.0" stroke="#17924a" stroke-width="1.6" />
<line x1="707.5" y1="1395.2" x2="714.9" y2="1395.2" stroke="#17924a" stroke-width="1.6" />
<line x1="717.5" y1="1312.8" x2="717.5" y2="1403.7" stroke="#17924a" stroke-width="1.6" />
<line x1="713.8" y1="1312.8" x2="721.2" y2="1312.8" stroke="#17924a" stroke-width="1.6" />
<line x1="713.8" y1="1403.7" x2="721.2" y2="1403.7" stroke="#17924a" stroke-width="1.6" />
<line x1="723.9" y1="1310.0" x2="723.9" y2="1404.7" stroke="#17924a" stroke-width="1.6" />
<line x1="720.2" y1="1310.0" x2="727.6" y2="1310.0" stroke="#17924a" stroke-width="1.6" />
<line x1="720.2" y1="1404.7" x2="727.6" y2="1404.7" stroke="#17924a" stroke-width="1.6" />
<line x1="730.2" y1="1315.5" x2="730.2" y2="1405.8" stroke="#17924a" stroke-width="1.6" />
<line x1="726.5" y1="1315.5" x2="733.9" y2="1315.5" stroke="#17924a" stroke-width="1.6" />
<line x1="726.5" y1="1405.8" x2="733.9" y2="1405.8" stroke="#17924a" stroke-width="1.6" />
<line x1="736.6" y1="1319.6" x2="736.6" y2="1405.3" stroke="#17924a" stroke-width="1.6" />
<line x1="732.9" y1="1319.6" x2="740.3" y2="1319.6" stroke="#17924a" stroke-width="1.6" />
<line x1="732.9" y1="1405.3" x2="740.3" y2="1405.3" stroke="#17924a" stroke-width="1.6" />
<line x1="742.9" y1="1323.6" x2="742.9" y2="1405.3" stroke="#17924a" stroke-width="1.6" />
<line x1="739.2" y1="1323.6" x2="746.6" y2="1323.6" stroke="#17924a" stroke-width="1.6" />
<line x1="739.2" y1="1405.3" x2="746.6" y2="1405.3" stroke="#17924a" stroke-width="1.6" />
<line x1="749.2" y1="1312.5" x2="749.2" y2="1398.7" stroke="#17924a" stroke-width="1.6" />
<line x1="745.5" y1="1312.5" x2="752.9" y2="1312.5" stroke="#17924a" stroke-width="1.6" />
<line x1="745.5" y1="1398.7" x2="752.9" y2="1398.7" stroke="#17924a" stroke-width="1.6" />
<line x1="755.6" y1="1319.1" x2="755.6" y2="1407.0" stroke="#17924a" stroke-width="1.6" />
<line x1="751.9" y1="1319.1" x2="759.3" y2="1319.1" stroke="#17924a" stroke-width="1.6" />
<line x1="751.9" y1="1407.0" x2="759.3" y2="1407.0" stroke="#17924a" stroke-width="1.6" />
<line x1="761.9" y1="1329.1" x2="761.9" y2="1404.7" stroke="#17924a" stroke-width="1.6" />
<line x1="758.2" y1="1329.1" x2="765.6" y2="1329.1" stroke="#17924a" stroke-width="1.6" />
<line x1="758.2" y1="1404.7" x2="765.6" y2="1404.7" stroke="#17924a" stroke-width="1.6" />
<line x1="768.3" y1="1316.0" x2="768.3" y2="1406.6" stroke="#17924a" stroke-width="1.6" />
<line x1="764.6" y1="1316.0" x2="772.0" y2="1316.0" stroke="#17924a" stroke-width="1.6" />
<line x1="764.6" y1="1406.6" x2="772.0" y2="1406.6" stroke="#17924a" stroke-width="1.6" />
<line x1="774.6" y1="1314.4" x2="774.6" y2="1394.3" stroke="#17924a" stroke-width="1.6" />
<line x1="770.9" y1="1314.4" x2="778.3" y2="1314.4" stroke="#17924a" stroke-width="1.6" />
<line x1="770.9" y1="1394.3" x2="778.3" y2="1394.3" stroke="#17924a" stroke-width="1.6" />
<line x1="781.0" y1="1322.6" x2="781.0" y2="1403.9" stroke="#17924a" stroke-width="1.6" />
<line x1="777.3" y1="1322.6" x2="784.7" y2="1322.6" stroke="#17924a" stroke-width="1.6" />
<line x1="777.3" y1="1403.9" x2="784.7" y2="1403.9" stroke="#17924a" stroke-width="1.6" />
<line x1="787.3" y1="1312.5" x2="787.3" y2="1402.3" stroke="#17924a" stroke-width="1.6" />
<line x1="783.6" y1="1312.5" x2="791.0" y2="1312.5" stroke="#17924a" stroke-width="1.6" />
<line x1="783.6" y1="1402.3" x2="791.0" y2="1402.3" stroke="#17924a" stroke-width="1.6" />
<line x1="165.4" y1="1683.3" x2="165.4" y2="1693.8" stroke="#4359a8" stroke-width="1.6" />
<line x1="161.7" y1="1683.3" x2="169.1" y2="1683.3" stroke="#4359a8" stroke-width="1.6" />
<line x1="161.7" y1="1693.8" x2="169.1" y2="1693.8" stroke="#4359a8" stroke-width="1.6" />
<line x1="171.8" y1="1670.3" x2="171.8" y2="1681.6" stroke="#4359a8" stroke-width="1.6" />
<line x1="168.1" y1="1670.3" x2="175.5" y2="1670.3" stroke="#4359a8" stroke-width="1.6" />
<line x1="168.1" y1="1681.6" x2="175.5" y2="1681.6" stroke="#4359a8" stroke-width="1.6" />
<line x1="178.1" y1="1663.3" x2="178.1" y2="1677.0" stroke="#4359a8" stroke-width="1.6" />
<line x1="174.4" y1="1663.3" x2="181.8" y2="1663.3" stroke="#4359a8" stroke-width="1.6" />
<line x1="174.4" y1="1677.0" x2="181.8" y2="1677.0" stroke="#4359a8" stroke-width="1.6" />
<line x1="184.5" y1="1656.0" x2="184.5" y2="1671.1" stroke="#4359a8" stroke-width="1.6" />
<line x1="180.8" y1="1656.0" x2="188.2" y2="1656.0" stroke="#4359a8" stroke-width="1.6" />
<line x1="180.8" y1="1671.1" x2="188.2" y2="1671.1" stroke="#4359a8" stroke-width="1.6" />
<line x1="190.8" y1="1643.4" x2="190.8" y2="1665.4" stroke="#4359a8" stroke-width="1.6" />
<line x1="187.1" y1="1643.4" x2="194.5" y2="1643.4" stroke="#4359a8" stroke-width="1.6" />
<line x1="187.1" y1="1665.4" x2="194.5" y2="1665.4" stroke="#4359a8" stroke-width="1.6" />
<line x1="197.2" y1="1641.3" x2="197.2" y2="1662.3" stroke="#4359a8" stroke-width="1.6" />
<line x1="193.5" y1="1641.3" x2="200.9" y2="1641.3" stroke="#4359a8" stroke-width="1.6" />
<line x1="193.5" y1="1662.3" x2="200.9" y2="1662.3" stroke="#4359a8" stroke-width="1.6" />
<line x1="203.5" y1="1635.4" x2="203.5" y2="1656.0" stroke="#4359a8" stroke-width="1.6" />
<line x1="199.8" y1="1635.4" x2="207.2" y2="1635.4" stroke="#4359a8" stroke-width="1.6" />
<line x1="199.8" y1="1656.0" x2="207.2" y2="1656.0" stroke="#4359a8" stroke-width="1.6" />
<line x1="209.9" y1="1635.4" x2="209.9" y2="1651.8" stroke="#4359a8" stroke-width="1.6" />
<line x1="206.2" y1="1635.4" x2="213.6" y2="1635.4" stroke="#4359a8" stroke-width="1.6" />
<line x1="206.2" y1="1651.8" x2="213.6" y2="1651.8" stroke="#4359a8" stroke-width="1.6" />
<line x1="216.2" y1="1627.6" x2="216.2" y2="1650.7" stroke="#4359a8" stroke-width="1.6" />
<line x1="212.5" y1="1627.6" x2="219.9" y2="1627.6" stroke="#4359a8" stroke-width="1.6" />
<line x1="212.5" y1="1650.7" x2="219.9" y2="1650.7" stroke="#4359a8" stroke-width="1.6" />
<line x1="222.6" y1="1627.6" x2="222.6" y2="1649.7" stroke="#4359a8" stroke-width="1.6" />
<line x1="218.9" y1="1627.6" x2="226.3" y2="1627.6" stroke="#4359a8" stroke-width="1.6" />
<line x1="218.9" y1="1649.7" x2="226.3" y2="1649.7" stroke="#4359a8" stroke-width="1.6" />
<line x1="228.9" y1="1616.4" x2="228.9" y2="1648.6" stroke="#4359a8" stroke-width="1.6" />
<line x1="225.2" y1="1616.4" x2="232.6" y2="1616.4" stroke="#4359a8" stroke-width="1.6" />
<line x1="225.2" y1="1648.6" x2="232.6" y2="1648.6" stroke="#4359a8" stroke-width="1.6" />
<line x1="235.2" y1="1620.6" x2="235.2" y2="1644.4" stroke="#4359a8" stroke-width="1.6" />
<line x1="231.5" y1="1620.6" x2="238.9" y2="1620.6" stroke="#4359a8" stroke-width="1.6" />
<line x1="231.5" y1="1644.4" x2="238.9" y2="1644.4" stroke="#4359a8" stroke-width="1.6" />
<line x1="241.6" y1="1613.5" x2="241.6" y2="1639.1" stroke="#4359a8" stroke-width="1.6" />
<line x1="237.9" y1="1613.5" x2="245.3" y2="1613.5" stroke="#4359a8" stroke-width="1.6" />
<line x1="237.9" y1="1639.1" x2="245.3" y2="1639.1" stroke="#4359a8" stroke-width="1.6" />
<line x1="247.9" y1="1616.0" x2="247.9" y2="1641.7" stroke="#4359a8" stroke-width="1.6" />
<line x1="244.2" y1="1616.0" x2="251.6" y2="1616.0" stroke="#4359a8" stroke-width="1.6" />
<line x1="244.2" y1="1641.7" x2="251.6" y2="1641.7" stroke="#4359a8" stroke-width="1.6" />
<line x1="254.3" y1="1604.4" x2="254.3" y2="1633.3" stroke="#4359a8" stroke-width="1.6" />
<line x1="250.6" y1="1604.4" x2="258.0" y2="1604.4" stroke="#4359a8" stroke-width="1.6" />
<line x1="250.6" y1="1633.3" x2="258.0" y2="1633.3" stroke="#4359a8" stroke-width="1.6" />
<line x1="260.6" y1="1609.7" x2="260.6" y2="1636.6" stroke="#4359a8" stroke-width="1.6" />
<line x1="256.9" y1="1609.7" x2="264.3" y2="1609.7" stroke="#4359a8" stroke-width="1.6" />
<line x1="256.9" y1="1636.6" x2="264.3" y2="1636.6" stroke="#4359a8" stroke-width="1.6" />
<line x1="267.0" y1="1604.0" x2="267.0" y2="1636.6" stroke="#4359a8" stroke-width="1.6" />
<line x1="263.3" y1="1604.0" x2="270.7" y2="1604.0" stroke="#4359a8" stroke-width="1.6" />
<line x1="263.3" y1="1636.6" x2="270.7" y2="1636.6" stroke="#4359a8" stroke-width="1.6" />
<line x1="273.3" y1="1607.2" x2="273.3" y2="1632.8" stroke="#4359a8" stroke-width="1.6" />
<line x1="269.6" y1="1607.2" x2="277.0" y2="1607.2" stroke="#4359a8" stroke-width="1.6" />
<line x1="269.6" y1="1632.8" x2="277.0" y2="1632.8" stroke="#4359a8" stroke-width="1.6" />
<line x1="279.7" y1="1603.4" x2="279.7" y2="1632.8" stroke="#4359a8" stroke-width="1.6" />
<line x1="276.0" y1="1603.4" x2="283.4" y2="1603.4" stroke="#4359a8" stroke-width="1.6" />
<line x1="276.0" y1="1632.8" x2="283.4" y2="1632.8" stroke="#4359a8" stroke-width="1.6" />
<line x1="286.0" y1="1601.3" x2="286.0" y2="1627.6" stroke="#4359a8" stroke-width="1.6" />
<line x1="282.3" y1="1601.3" x2="289.7" y2="1601.3" stroke="#4359a8" stroke-width="1.6" />
<line x1="282.3" y1="1627.6" x2="289.7" y2="1627.6" stroke="#4359a8" stroke-width="1.6" />
<line x1="292.4" y1="1596.7" x2="292.4" y2="1628.6" stroke="#4359a8" stroke-width="1.6" />
<line x1="288.7" y1="1596.7" x2="296.1" y2="1596.7" stroke="#4359a8" stroke-width="1.6" />
<line x1="288.7" y1="1628.6" x2="296.1" y2="1628.6" stroke="#4359a8" stroke-width="1.6" />
<line x1="298.7" y1="1596.0" x2="298.7" y2="1622.7" stroke="#4359a8" stroke-width="1.6" />
<line x1="295.0" y1="1596.0" x2="302.4" y2="1596.0" stroke="#4359a8" stroke-width="1.6" />
<line x1="295.0" y1="1622.7" x2="302.4" y2="1622.7" stroke="#4359a8" stroke-width="1.6" />
<line x1="305.0" y1="1595.4" x2="305.0" y2="1622.7" stroke="#4359a8" stroke-width="1.6" />
<line x1="301.3" y1="1595.4" x2="308.7" y2="1595.4" stroke="#4359a8" stroke-width="1.6" />
<line x1="301.3" y1="1622.7" x2="308.7" y2="1622.7" stroke="#4359a8" stroke-width="1.6" />
<line x1="311.4" y1="1595.4" x2="311.4" y2="1622.7" stroke="#4359a8" stroke-width="1.6" />
<line x1="307.7" y1="1595.4" x2="315.1" y2="1595.4" stroke="#4359a8" stroke-width="1.6" />
<line x1="307.7" y1="1622.7" x2="315.1" y2="1622.7" stroke="#4359a8" stroke-width="1.6" />
<line x1="317.7" y1="1585.1" x2="317.7" y2="1622.3" stroke="#4359a8" stroke-width="1.6" />
<line x1="314.0" y1="1585.1" x2="321.4" y2="1585.1" stroke="#4359a8" stroke-width="1.6" />
<line x1="314.0" y1="1622.3" x2="321.4" y2="1622.3" stroke="#4359a8" stroke-width="1.6" />
<line x1="324.1" y1="1592.5" x2="324.1" y2="1622.3" stroke="#4359a8" stroke-width="1.6" />
<line x1="320.4" y1="1592.5" x2="327.8" y2="1592.5" stroke="#4359a8" stroke-width="1.6" />
<line x1="320.4" y1="1622.3" x2="327.8" y2="1622.3" stroke="#4359a8" stroke-width="1.6" />
<line x1="330.4" y1="1587.0" x2="330.4" y2="1620.2" stroke="#4359a8" stroke-width="1.6" />
<line x1="326.7" y1="1587.0" x2="334.1" y2="1587.0" stroke="#4359a8" stroke-width="1.6" />
<line x1="326.7" y1="1620.2" x2="334.1" y2="1620.2" stroke="#4359a8" stroke-width="1.6" />
<line x1="336.8" y1="1587.0" x2="336.8" y2="1620.2" stroke="#4359a8" stroke-width="1.6" />
<line x1="333.1" y1="1587.0" x2="340.5" y2="1587.0" stroke="#4359a8" stroke-width="1.6" />
<line x1="333.1" y1="1620.2" x2="340.5" y2="1620.2" stroke="#4359a8" stroke-width="1.6" />
<line x1="343.1" y1="1584.0" x2="343.1" y2="1620.6" stroke="#4359a8" stroke-width="1.6" />
<line x1="339.4" y1="1584.0" x2="346.8" y2="1584.0" stroke="#4359a8" stroke-width="1.6" />
<line x1="339.4" y1="1620.6" x2="346.8" y2="1620.6" stroke="#4359a8" stroke-width="1.6" />
<line x1="349.5" y1="1584.5" x2="349.5" y2="1621.3" stroke="#4359a8" stroke-width="1.6" />
<line x1="345.8" y1="1584.5" x2="353.2" y2="1584.5" stroke="#4359a8" stroke-width="1.6" />
<line x1="345.8" y1="1621.3" x2="353.2" y2="1621.3" stroke="#4359a8" stroke-width="1.6" />
<line x1="355.8" y1="1584.3" x2="355.8" y2="1613.5" stroke="#4359a8" stroke-width="1.6" />
<line x1="352.1" y1="1584.3" x2="359.5" y2="1584.3" stroke="#4359a8" stroke-width="1.6" />
<line x1="352.1" y1="1613.5" x2="359.5" y2="1613.5" stroke="#4359a8" stroke-width="1.6" />
<line x1="362.2" y1="1582.5" x2="362.2" y2="1621.4" stroke="#4359a8" stroke-width="1.6" />
<line x1="358.5" y1="1582.5" x2="365.9" y2="1582.5" stroke="#4359a8" stroke-width="1.6" />
<line x1="358.5" y1="1621.4" x2="365.9" y2="1621.4" stroke="#4359a8" stroke-width="1.6" />
<line x1="368.5" y1="1578.5" x2="368.5" y2="1612.2" stroke="#4359a8" stroke-width="1.6" />
<line x1="364.8" y1="1578.5" x2="372.2" y2="1578.5" stroke="#4359a8" stroke-width="1.6" />
<line x1="364.8" y1="1612.2" x2="372.2" y2="1612.2" stroke="#4359a8" stroke-width="1.6" />
<line x1="374.9" y1="1579.3" x2="374.9" y2="1616.3" stroke="#4359a8" stroke-width="1.6" />
<line x1="371.2" y1="1579.3" x2="378.6" y2="1579.3" stroke="#4359a8" stroke-width="1.6" />
<line x1="371.2" y1="1616.3" x2="378.6" y2="1616.3" stroke="#4359a8" stroke-width="1.6" />
<line x1="381.2" y1="1579.3" x2="381.2" y2="1615.1" stroke="#4359a8" stroke-width="1.6" />
<line x1="377.5" y1="1579.3" x2="384.9" y2="1579.3" stroke="#4359a8" stroke-width="1.6" />
<line x1="377.5" y1="1615.1" x2="384.9" y2="1615.1" stroke="#4359a8" stroke-width="1.6" />
<line x1="387.5" y1="1582.8" x2="387.5" y2="1611.6" stroke="#4359a8" stroke-width="1.6" />
<line x1="383.8" y1="1582.8" x2="391.2" y2="1582.8" stroke="#4359a8" stroke-width="1.6" />
<line x1="383.8" y1="1611.6" x2="391.2" y2="1611.6" stroke="#4359a8" stroke-width="1.6" />
<line x1="393.9" y1="1575.7" x2="393.9" y2="1606.4" stroke="#4359a8" stroke-width="1.6" />
<line x1="390.2" y1="1575.7" x2="397.6" y2="1575.7" stroke="#4359a8" stroke-width="1.6" />
<line x1="390.2" y1="1606.4" x2="397.6" y2="1606.4" stroke="#4359a8" stroke-width="1.6" />
<line x1="400.2" y1="1580.4" x2="400.2" y2="1611.6" stroke="#4359a8" stroke-width="1.6" />
<line x1="396.5" y1="1580.4" x2="403.9" y2="1580.4" stroke="#4359a8" stroke-width="1.6" />
<line x1="396.5" y1="1611.6" x2="403.9" y2="1611.6" stroke="#4359a8" stroke-width="1.6" />
<line x1="406.6" y1="1575.2" x2="406.6" y2="1605.1" stroke="#4359a8" stroke-width="1.6" />
<line x1="402.9" y1="1575.2" x2="410.3" y2="1575.2" stroke="#4359a8" stroke-width="1.6" />
<line x1="402.9" y1="1605.1" x2="410.3" y2="1605.1" stroke="#4359a8" stroke-width="1.6" />
<line x1="412.9" y1="1579.3" x2="412.9" y2="1615.9" stroke="#4359a8" stroke-width="1.6" />
<line x1="409.2" y1="1579.3" x2="416.6" y2="1579.3" stroke="#4359a8" stroke-width="1.6" />
<line x1="409.2" y1="1615.9" x2="416.6" y2="1615.9" stroke="#4359a8" stroke-width="1.6" />
<line x1="419.3" y1="1570.2" x2="419.3" y2="1608.0" stroke="#4359a8" stroke-width="1.6" />
<line x1="415.6" y1="1570.2" x2="423.0" y2="1570.2" stroke="#4359a8" stroke-width="1.6" />
<line x1="415.6" y1="1608.0" x2="423.0" y2="1608.0" stroke="#4359a8" stroke-width="1.6" />
<line x1="425.6" y1="1574.1" x2="425.6" y2="1612.7" stroke="#4359a8" stroke-width="1.6" />
<line x1="421.9" y1="1574.1" x2="429.3" y2="1574.1" stroke="#4359a8" stroke-width="1.6" />
<line x1="421.9" y1="1612.7" x2="429.3" y2="1612.7" stroke="#4359a8" stroke-width="1.6" />
<line x1="432.0" y1="1572.2" x2="432.0" y2="1607.5" stroke="#4359a8" stroke-width="1.6" />
<line x1="428.3" y1="1572.2" x2="435.7" y2="1572.2" stroke="#4359a8" stroke-width="1.6" />
<line x1="428.3" y1="1607.5" x2="435.7" y2="1607.5" stroke="#4359a8" stroke-width="1.6" />
<line x1="438.3" y1="1570.2" x2="438.3" y2="1614.3" stroke="#4359a8" stroke-width="1.6" />
<line x1="434.6" y1="1570.2" x2="442.0" y2="1570.2" stroke="#4359a8" stroke-width="1.6" />
<line x1="434.6" y1="1614.3" x2="442.0" y2="1614.3" stroke="#4359a8" stroke-width="1.6" />
<line x1="444.7" y1="1567.8" x2="444.7" y2="1604.8" stroke="#4359a8" stroke-width="1.6" />
<line x1="441.0" y1="1567.8" x2="448.4" y2="1567.8" stroke="#4359a8" stroke-width="1.6" />
<line x1="441.0" y1="1604.8" x2="448.4" y2="1604.8" stroke="#4359a8" stroke-width="1.6" />
<line x1="451.0" y1="1568.6" x2="451.0" y2="1610.0" stroke="#4359a8" stroke-width="1.6" />
<line x1="447.3" y1="1568.6" x2="454.7" y2="1568.6" stroke="#4359a8" stroke-width="1.6" />
<line x1="447.3" y1="1610.0" x2="454.7" y2="1610.0" stroke="#4359a8" stroke-width="1.6" />
<line x1="457.3" y1="1569.4" x2="457.3" y2="1602.1" stroke="#4359a8" stroke-width="1.6" />
<line x1="453.6" y1="1569.4" x2="461.0" y2="1569.4" stroke="#4359a8" stroke-width="1.6" />
<line x1="453.6" y1="1602.1" x2="461.0" y2="1602.1" stroke="#4359a8" stroke-width="1.6" />
<line x1="463.7" y1="1570.6" x2="463.7" y2="1605.3" stroke="#4359a8" stroke-width="1.6" />
<line x1="460.0" y1="1570.6" x2="467.4" y2="1570.6" stroke="#4359a8" stroke-width="1.6" />
<line x1="460.0" y1="1605.3" x2="467.4" y2="1605.3" stroke="#4359a8" stroke-width="1.6" />
<line x1="470.0" y1="1566.2" x2="470.0" y2="1604.0" stroke="#4359a8" stroke-width="1.6" />
<line x1="466.3" y1="1566.2" x2="473.7" y2="1566.2" stroke="#4359a8" stroke-width="1.6" />
<line x1="466.3" y1="1604.0" x2="473.7" y2="1604.0" stroke="#4359a8" stroke-width="1.6" />
<line x1="476.4" y1="1565.4" x2="476.4" y2="1608.4" stroke="#4359a8" stroke-width="1.6" />
<line x1="472.7" y1="1565.4" x2="480.1" y2="1565.4" stroke="#4359a8" stroke-width="1.6" />
<line x1="472.7" y1="1608.4" x2="480.1" y2="1608.4" stroke="#4359a8" stroke-width="1.6" />
<line x1="482.7" y1="1565.4" x2="482.7" y2="1600.9" stroke="#4359a8" stroke-width="1.6" />
<line x1="479.0" y1="1565.4" x2="486.4" y2="1565.4" stroke="#4359a8" stroke-width="1.6" />
<line x1="479.0" y1="1600.9" x2="486.4" y2="1600.9" stroke="#4359a8" stroke-width="1.6" />
<line x1="489.1" y1="1563.1" x2="489.1" y2="1598.5" stroke="#4359a8" stroke-width="1.6" />
<line x1="485.4" y1="1563.1" x2="492.8" y2="1563.1" stroke="#4359a8" stroke-width="1.6" />
<line x1="485.4" y1="1598.5" x2="492.8" y2="1598.5" stroke="#4359a8" stroke-width="1.6" />
<line x1="495.4" y1="1566.7" x2="495.4" y2="1599.3" stroke="#4359a8" stroke-width="1.6" />
<line x1="491.7" y1="1566.7" x2="499.1" y2="1566.7" stroke="#4359a8" stroke-width="1.6" />
<line x1="491.7" y1="1599.3" x2="499.1" y2="1599.3" stroke="#4359a8" stroke-width="1.6" />
<line x1="501.8" y1="1563.9" x2="501.8" y2="1603.3" stroke="#4359a8" stroke-width="1.6" />
<line x1="498.1" y1="1563.9" x2="505.5" y2="1563.9" stroke="#4359a8" stroke-width="1.6" />
<line x1="498.1" y1="1603.3" x2="505.5" y2="1603.3" stroke="#4359a8" stroke-width="1.6" />
<line x1="508.1" y1="1563.6" x2="508.1" y2="1600.9" stroke="#4359a8" stroke-width="1.6" />
<line x1="504.4" y1="1563.6" x2="511.8" y2="1563.6" stroke="#4359a8" stroke-width="1.6" />
<line x1="504.4" y1="1600.9" x2="511.8" y2="1600.9" stroke="#4359a8" stroke-width="1.6" />
<line x1="514.5" y1="1564.3" x2="514.5" y2="1602.8" stroke="#4359a8" stroke-width="1.6" />
<line x1="510.8" y1="1564.3" x2="518.2" y2="1564.3" stroke="#4359a8" stroke-width="1.6" />
<line x1="510.8" y1="1602.8" x2="518.2" y2="1602.8" stroke="#4359a8" stroke-width="1.6" />
<line x1="520.8" y1="1559.1" x2="520.8" y2="1597.4" stroke="#4359a8" stroke-width="1.6" />
<line x1="517.1" y1="1559.1" x2="524.5" y2="1559.1" stroke="#4359a8" stroke-width="1.6" />
<line x1="517.1" y1="1597.4" x2="524.5" y2="1597.4" stroke="#4359a8" stroke-width="1.6" />
<line x1="527.1" y1="1563.4" x2="527.1" y2="1602.1" stroke="#4359a8" stroke-width="1.6" />
<line x1="523.4" y1="1563.4" x2="530.8" y2="1563.4" stroke="#4359a8" stroke-width="1.6" />
<line x1="523.4" y1="1602.1" x2="530.8" y2="1602.1" stroke="#4359a8" stroke-width="1.6" />
<line x1="533.5" y1="1558.7" x2="533.5" y2="1603.7" stroke="#4359a8" stroke-width="1.6" />
<line x1="529.8" y1="1558.7" x2="537.2" y2="1558.7" stroke="#4359a8" stroke-width="1.6" />
<line x1="529.8" y1="1603.7" x2="537.2" y2="1603.7" stroke="#4359a8" stroke-width="1.6" />
<line x1="539.8" y1="1564.7" x2="539.8" y2="1601.2" stroke="#4359a8" stroke-width="1.6" />
<line x1="536.1" y1="1564.7" x2="543.5" y2="1564.7" stroke="#4359a8" stroke-width="1.6" />
<line x1="536.1" y1="1601.2" x2="543.5" y2="1601.2" stroke="#4359a8" stroke-width="1.6" />
<line x1="546.2" y1="1556.5" x2="546.2" y2="1596.2" stroke="#4359a8" stroke-width="1.6" />
<line x1="542.5" y1="1556.5" x2="549.9" y2="1556.5" stroke="#4359a8" stroke-width="1.6" />
<line x1="542.5" y1="1596.2" x2="549.9" y2="1596.2" stroke="#4359a8" stroke-width="1.6" />
<line x1="552.5" y1="1564.7" x2="552.5" y2="1599.3" stroke="#4359a8" stroke-width="1.6" />
<line x1="548.8" y1="1564.7" x2="556.2" y2="1564.7" stroke="#4359a8" stroke-width="1.6" />
<line x1="548.8" y1="1599.3" x2="556.2" y2="1599.3" stroke="#4359a8" stroke-width="1.6" />
<line x1="558.9" y1="1556.0" x2="558.9" y2="1597.7" stroke="#4359a8" stroke-width="1.6" />
<line x1="555.2" y1="1556.0" x2="562.6" y2="1556.0" stroke="#4359a8" stroke-width="1.6" />
<line x1="555.2" y1="1597.7" x2="562.6" y2="1597.7" stroke="#4359a8" stroke-width="1.6" />
<line x1="565.2" y1="1559.1" x2="565.2" y2="1600.1" stroke="#4359a8" stroke-width="1.6" />
<line x1="561.5" y1="1559.1" x2="568.9" y2="1559.1" stroke="#4359a8" stroke-width="1.6" />
<line x1="561.5" y1="1600.1" x2="568.9" y2="1600.1" stroke="#4359a8" stroke-width="1.6" />
<line x1="571.6" y1="1554.1" x2="571.6" y2="1601.7" stroke="#4359a8" stroke-width="1.6" />
<line x1="567.9" y1="1554.1" x2="575.3" y2="1554.1" stroke="#4359a8" stroke-width="1.6" />
<line x1="567.9" y1="1601.7" x2="575.3" y2="1601.7" stroke="#4359a8" stroke-width="1.6" />
<line x1="577.9" y1="1559.6" x2="577.9" y2="1598.5" stroke="#4359a8" stroke-width="1.6" />
<line x1="574.2" y1="1559.6" x2="581.6" y2="1559.6" stroke="#4359a8" stroke-width="1.6" />
<line x1="574.2" y1="1598.5" x2="581.6" y2="1598.5" stroke="#4359a8" stroke-width="1.6" />
<line x1="584.3" y1="1551.3" x2="584.3" y2="1593.8" stroke="#4359a8" stroke-width="1.6" />
<line x1="580.6" y1="1551.3" x2="588.0" y2="1551.3" stroke="#4359a8" stroke-width="1.6" />
<line x1="580.6" y1="1593.8" x2="588.0" y2="1593.8" stroke="#4359a8" stroke-width="1.6" />
<line x1="590.6" y1="1561.5" x2="590.6" y2="1597.7" stroke="#4359a8" stroke-width="1.6" />
<line x1="586.9" y1="1561.5" x2="594.3" y2="1561.5" stroke="#4359a8" stroke-width="1.6" />
<line x1="586.9" y1="1597.7" x2="594.3" y2="1597.7" stroke="#4359a8" stroke-width="1.6" />
<line x1="596.9" y1="1554.1" x2="596.9" y2="1596.2" stroke="#4359a8" stroke-width="1.6" />
<line x1="593.2" y1="1554.1" x2="600.6" y2="1554.1" stroke="#4359a8" stroke-width="1.6" />
<line x1="593.2" y1="1596.2" x2="600.6" y2="1596.2" stroke="#4359a8" stroke-width="1.6" />
<line x1="603.3" y1="1557.6" x2="603.3" y2="1593.0" stroke="#4359a8" stroke-width="1.6" />
<line x1="599.6" y1="1557.6" x2="607.0" y2="1557.6" stroke="#4359a8" stroke-width="1.6" />
<line x1="599.6" y1="1593.0" x2="607.0" y2="1593.0" stroke="#4359a8" stroke-width="1.6" />
<line x1="609.6" y1="1555.5" x2="609.6" y2="1596.2" stroke="#4359a8" stroke-width="1.6" />
<line x1="605.9" y1="1555.5" x2="613.3" y2="1555.5" stroke="#4359a8" stroke-width="1.6" />
<line x1="605.9" y1="1596.2" x2="613.3" y2="1596.2" stroke="#4359a8" stroke-width="1.6" />
<line x1="616.0" y1="1551.0" x2="616.0" y2="1594.3" stroke="#4359a8" stroke-width="1.6" />
<line x1="612.3" y1="1551.0" x2="619.7" y2="1551.0" stroke="#4359a8" stroke-width="1.6" />
<line x1="612.3" y1="1594.3" x2="619.7" y2="1594.3" stroke="#4359a8" stroke-width="1.6" />
<line x1="622.3" y1="1550.5" x2="622.3" y2="1599.0" stroke="#4359a8" stroke-width="1.6" />
<line x1="618.6" y1="1550.5" x2="626.0" y2="1550.5" stroke="#4359a8" stroke-width="1.6" />
<line x1="618.6" y1="1599.0" x2="626.0" y2="1599.0" stroke="#4359a8" stroke-width="1.6" />
<line x1="628.7" y1="1551.7" x2="628.7" y2="1593.8" stroke="#4359a8" stroke-width="1.6" />
<line x1="625.0" y1="1551.7" x2="632.4" y2="1551.7" stroke="#4359a8" stroke-width="1.6" />
<line x1="625.0" y1="1593.8" x2="632.4" y2="1593.8" stroke="#4359a8" stroke-width="1.6" />
<line x1="635.0" y1="1552.5" x2="635.0" y2="1594.6" stroke="#4359a8" stroke-width="1.6" />
<line x1="631.3" y1="1552.5" x2="638.7" y2="1552.5" stroke="#4359a8" stroke-width="1.6" />
<line x1="631.3" y1="1594.6" x2="638.7" y2="1594.6" stroke="#4359a8" stroke-width="1.6" />
<line x1="641.4" y1="1553.6" x2="641.4" y2="1596.5" stroke="#4359a8" stroke-width="1.6" />
<line x1="637.7" y1="1553.6" x2="645.1" y2="1553.6" stroke="#4359a8" stroke-width="1.6" />
<line x1="637.7" y1="1596.5" x2="645.1" y2="1596.5" stroke="#4359a8" stroke-width="1.6" />
<line x1="647.7" y1="1553.6" x2="647.7" y2="1597.0" stroke="#4359a8" stroke-width="1.6" />
<line x1="644.0" y1="1553.6" x2="651.4" y2="1553.6" stroke="#4359a8" stroke-width="1.6" />
<line x1="644.0" y1="1597.0" x2="651.4" y2="1597.0" stroke="#4359a8" stroke-width="1.6" />
<line x1="654.1" y1="1557.6" x2="654.1" y2="1595.8" stroke="#4359a8" stroke-width="1.6" />
<line x1="650.4" y1="1557.6" x2="657.8" y2="1557.6" stroke="#4359a8" stroke-width="1.6" />
<line x1="650.4" y1="1595.8" x2="657.8" y2="1595.8" stroke="#4359a8" stroke-width="1.6" />
<line x1="660.4" y1="1553.6" x2="660.4" y2="1594.3" stroke="#4359a8" stroke-width="1.6" />
<line x1="656.7" y1="1553.6" x2="664.1" y2="1553.6" stroke="#4359a8" stroke-width="1.6" />
<line x1="656.7" y1="1594.3" x2="664.1" y2="1594.3" stroke="#4359a8" stroke-width="1.6" />
<line x1="666.8" y1="1555.5" x2="666.8" y2="1596.2" stroke="#4359a8" stroke-width="1.6" />
<line x1="663.1" y1="1555.5" x2="670.5" y2="1555.5" stroke="#4359a8" stroke-width="1.6" />
<line x1="663.1" y1="1596.2" x2="670.5" y2="1596.2" stroke="#4359a8" stroke-width="1.6" />
<line x1="673.1" y1="1547.3" x2="673.1" y2="1593.8" stroke="#4359a8" stroke-width="1.6" />
<line x1="669.4" y1="1547.3" x2="676.8" y2="1547.3" stroke="#4359a8" stroke-width="1.6" />
<line x1="669.4" y1="1593.8" x2="676.8" y2="1593.8" stroke="#4359a8" stroke-width="1.6" />
<line x1="679.4" y1="1553.3" x2="679.4" y2="1593.8" stroke="#4359a8" stroke-width="1.6" />
<line x1="675.7" y1="1553.3" x2="683.1" y2="1553.3" stroke="#4359a8" stroke-width="1.6" />
<line x1="675.7" y1="1593.8" x2="683.1" y2="1593.8" stroke="#4359a8" stroke-width="1.6" />
<line x1="685.8" y1="1549.7" x2="685.8" y2="1593.8" stroke="#4359a8" stroke-width="1.6" />
<line x1="682.1" y1="1549.7" x2="689.5" y2="1549.7" stroke="#4359a8" stroke-width="1.6" />
<line x1="682.1" y1="1593.8" x2="689.5" y2="1593.8" stroke="#4359a8" stroke-width="1.6" />
<line x1="692.1" y1="1551.3" x2="692.1" y2="1593.8" stroke="#4359a8" stroke-width="1.6" />
<line x1="688.4" y1="1551.3" x2="695.8" y2="1551.3" stroke="#4359a8" stroke-width="1.6" />
<line x1="688.4" y1="1593.8" x2="695.8" y2="1593.8" stroke="#4359a8" stroke-width="1.6" />
<line x1="698.5" y1="1550.5" x2="698.5" y2="1593.8" stroke="#4359a8" stroke-width="1.6" />
<line x1="694.8" y1="1550.5" x2="702.2" y2="1550.5" stroke="#4359a8" stroke-width="1.6" />
<line x1="694.8" y1="1593.8" x2="702.2" y2="1593.8" stroke="#4359a8" stroke-width="1.6" />
<line x1="704.8" y1="1549.7" x2="704.8" y2="1594.3" stroke="#4359a8" stroke-width="1.6" />
<line x1="701.1" y1="1549.7" x2="708.5" y2="1549.7" stroke="#4359a8" stroke-width="1.6" />
<line x1="701.1" y1="1594.3" x2="708.5" y2="1594.3" stroke="#4359a8" stroke-width="1.6" />
<line x1="711.2" y1="1554.7" x2="711.2" y2="1595.1" stroke="#4359a8" stroke-width="1.6" />
<line x1="707.5" y1="1554.7" x2="714.9" y2="1554.7" stroke="#4359a8" stroke-width="1.6" />
<line x1="707.5" y1="1595.1" x2="714.9" y2="1595.1" stroke="#4359a8" stroke-width="1.6" />
<line x1="717.5" y1="1550.5" x2="717.5" y2="1595.1" stroke="#4359a8" stroke-width="1.6" />
<line x1="713.8" y1="1550.5" x2="721.2" y2="1550.5" stroke="#4359a8" stroke-width="1.6" />
<line x1="713.8" y1="1595.1" x2="721.2" y2="1595.1" stroke="#4359a8" stroke-width="1.6" />
<line x1="723.9" y1="1549.7" x2="723.9" y2="1588.3" stroke="#4359a8" stroke-width="1.6" />
<line x1="720.2" y1="1549.7" x2="727.6" y2="1549.7" stroke="#4359a8" stroke-width="1.6" />
<line x1="720.2" y1="1588.3" x2="727.6" y2="1588.3" stroke="#4359a8" stroke-width="1.6" />
<line x1="730.2" y1="1551.3" x2="730.2" y2="1593.5" stroke="#4359a8" stroke-width="1.6" />
<line x1="726.5" y1="1551.3" x2="733.9" y2="1551.3" stroke="#4359a8" stroke-width="1.6" />
<line x1="726.5" y1="1593.5" x2="733.9" y2="1593.5" stroke="#4359a8" stroke-width="1.6" />
<line x1="736.6" y1="1549.7" x2="736.6" y2="1585.1" stroke="#4359a8" stroke-width="1.6" />
<line x1="732.9" y1="1549.7" x2="740.3" y2="1549.7" stroke="#4359a8" stroke-width="1.6" />
<line x1="732.9" y1="1585.1" x2="740.3" y2="1585.1" stroke="#4359a8" stroke-width="1.6" />
<line x1="742.9" y1="1549.7" x2="742.9" y2="1594.3" stroke="#4359a8" stroke-width="1.6" />
<line x1="739.2" y1="1549.7" x2="746.6" y2="1549.7" stroke="#4359a8" stroke-width="1.6" />
<line x1="739.2" y1="1594.3" x2="746.6" y2="1594.3" stroke="#4359a8" stroke-width="1.6" />
<line x1="749.2" y1="1552.5" x2="749.2" y2="1589.5" stroke="#4359a8" stroke-width="1.6" />
<line x1="745.5" y1="1552.5" x2="752.9" y2="1552.5" stroke="#4359a8" stroke-width="1.6" />
<line x1="745.5" y1="1589.5" x2="752.9" y2="1589.5" stroke="#4359a8" stroke-width="1.6" />
<line x1="755.6" y1="1544.2" x2="755.6" y2="1594.3" stroke="#4359a8" stroke-width="1.6" />
<line x1="751.9" y1="1544.2" x2="759.3" y2="1544.2" stroke="#4359a8" stroke-width="1.6" />
<line x1="751.9" y1="1594.3" x2="759.3" y2="1594.3" stroke="#4359a8" stroke-width="1.6" />
<line x1="761.9" y1="1549.7" x2="761.9" y2="1588.0" stroke="#4359a8" stroke-width="1.6" />
<line x1="758.2" y1="1549.7" x2="765.6" y2="1549.7" stroke="#4359a8" stroke-width="1.6" />
<line x1="758.2" y1="1588.0" x2="765.6" y2="1588.0" stroke="#4359a8" stroke-width="1.6" />
<line x1="768.3" y1="1546.5" x2="768.3" y2="1590.6" stroke="#4359a8" stroke-width="1.6" />
<line x1="764.6" y1="1546.5" x2="772.0" y2="1546.5" stroke="#4359a8" stroke-width="1.6" />
<line x1="764.6" y1="1590.6" x2="772.0" y2="1590.6" stroke="#4359a8" stroke-width="1.6" />
<line x1="774.6" y1="1550.5" x2="774.6" y2="1589.9" stroke="#4359a8" stroke-width="1.6" />
<line x1="770.9" y1="1550.5" x2="778.3" y2="1550.5" stroke="#4359a8" stroke-width="1.6" />
<line x1="770.9" y1="1589.9" x2="778.3" y2="1589.9" stroke="#4359a8" stroke-width="1.6" />
<line x1="781.0" y1="1548.4" x2="781.0" y2="1589.1" stroke="#4359a8" stroke-width="1.6" />
<line x1="777.3" y1="1548.4" x2="784.7" y2="1548.4" stroke="#4359a8" stroke-width="1.6" />
<line x1="777.3" y1="1589.1" x2="784.7" y2="1589.1" stroke="#4359a8" stroke-width="1.6" />
<line x1="787.3" y1="1544.7" x2="787.3" y2="1584.0" stroke="#4359a8" stroke-width="1.6" />
<line x1="783.6" y1="1544.7" x2="791.0" y2="1544.7" stroke="#4359a8" stroke-width="1.6" />
<line x1="783.6" y1="1584.0" x2="791.0" y2="1584.0" stroke="#4359a8" stroke-width="1.6" />
<polyline points="159.1,1674.3 162.3,1662.2 165.4,1650.6 168.6,1639.5 171.8,1628.9 174.9,1618.8 178.1,1609.0 181.3,1599.7 184.4,1590.8 187.6,1582.3 190.7,1574.0 193.9,1566.2 197.1,1558.6 200.2,1551.3 203.4,1544.3 206.6,1537.6 209.7,1531.2 212.9,1525.0 216.1,1519.0 219.2,1513.3 222.4,1507.7 225.6,1502.4 228.7,1497.3 231.9,1492.4 235.0,1487.6 238.2,1483.1 241.4,1478.7 244.5,1474.5 247.7,1470.4 250.9,1466.5 254.0,1462.7 257.2,1459.1 260.4,1455.5 263.5,1452.2 266.7,1448.9 269.9,1445.8 273.0,1442.8 276.2,1439.9 279.3,1437.1 282.5,1434.4 285.7,1431.8 288.8,1429.2 292.0,1426.8 295.2,1424.5 298.3,1422.3 301.5,1420.1 304.7,1418.0 307.8,1416.0 311.0,1414.1 314.2,1412.2 317.3,1410.4 320.5,1408.7 323.6,1407.0 326.8,1405.4 330.0,1403.9 333.1,1402.4 336.3,1400.9 339.5,1399.5 342.6,1398.2 345.8,1396.9 349.0,1395.7 352.1,1394.5 355.3,1393.3 358.5,1392.2 361.6,1391.1 364.8,1390.1 368.0,1389.1 371.1,1388.1 374.3,1387.2 377.4,1386.3 380.6,1385.5 383.8,1384.6 386.9,1383.8 390.1,1383.1 393.3,1382.3 396.4,1381.6 399.6,1380.9 402.8,1380.2 405.9,1379.6 409.1,1379.0 412.3,1378.4 415.4,1377.8 418.6,1377.3 421.7,1376.7 424.9,1376.2 428.1,1375.7 431.2,1375.3 434.4,1374.8 437.6,1374.3 440.7,1373.9 443.9,1373.5 447.1,1373.1 450.2,1372.7 453.4,1372.4 456.6,1372.0 459.7,1371.7 462.9,1371.3 466.0,1371.0 469.2,1370.7 472.4,1370.4 475.5,1370.1 478.7,1369.9 481.9,1369.6 485.0,1369.3 488.2,1369.1 491.4,1368.9 494.5,1368.6 497.7,1368.4 500.9,1368.2 504.0,1368.0 507.2,1367.8 510.4,1367.6 513.5,1367.4 516.7,1367.2 519.8,1367.1 523.0,1366.9 526.2,1366.7 529.3,1366.6 532.5,1366.4 535.7,1366.3 538.8,1366.2 542.0,1366.0 545.2,1365.9 548.3,1365.8 551.5,1365.7 554.7,1365.6 557.8,1365.5 561.0,1365.3 564.1,1365.2 567.3,1365.1 570.5,1365.1 573.6,1365.0 576.8,1364.9 580.0,1364.8 583.1,1364.7 586.3,1364.6 589.5,1364.6 592.6,1364.5 595.8,1364.4 599.0,1364.3 602.1,1364.3 605.3,1364.2 608.4,1364.2 611.6,1364.1 614.8,1364.0 617.9,1364.0 621.1,1363.9 624.3,1363.9 627.4,1363.8 630.6,1363.8 633.8,1363.7 636.9,1363.7 640.1,1363.7 643.3,1363.6 646.4,1363.6 649.6,1363.5 652.7,1363.5 655.9,1363.5 659.1,1363.4 662.2,1363.4 665.4,1363.4 668.6,1363.3 671.7,1363.3 674.9,1363.3 678.1,1363.3 681.2,1363.2 684.4,1363.2 687.6,1363.2 690.7,1363.2 693.9,1363.1 697.1,1363.1 700.2,1363.1 703.4,1363.1 706.5,1363.1 709.7,1363.0 712.9,1363.0 716.0,1363.0 719.2,1363.0 722.4,1363.0 725.5,1362.9 728.7,1362.9 731.9,1362.9 735.0,1362.9 738.2,1362.9 741.4,1362.9 744.5,1362.9 747.7,1362.9 750.8,1362.8 754.0,1362.8 757.2,1362.8 760.3,1362.8 763.5,1362.8 766.7,1362.8 769.8,1362.8 773.0,1362.8 776.2,1362.8 779.3,1362.8 782.5,1362.7 785.7,1362.7 788.8,1362.7" fill="none" stroke="#17924a" stroke-width="2"/>
<polyline points="159.1,1684.0 162.3,1680.9 165.4,1677.9 168.6,1675.0 171.8,1672.3 174.9,1669.7 178.1,1667.2 181.3,1664.8 184.4,1662.5 187.6,1660.3 190.7,1658.2 193.9,1656.2 197.1,1654.2 200.2,1652.3 203.4,1650.5 206.6,1648.7 209.7,1647.0 212.9,1645.4 216.1,1643.8 219.2,1642.3 222.4,1640.8 225.6,1639.4 228.7,1638.0 231.9,1636.6 235.0,1635.3 238.2,1634.0 241.4,1632.8 244.5,1631.6 247.7,1630.4 250.9,1629.3 254.0,1628.2 257.2,1627.1 260.4,1626.0 263.5,1625.0 266.7,1624.0 269.9,1623.0 273.0,1622.0 276.2,1621.1 279.3,1620.2 282.5,1619.3 285.7,1618.4 288.8,1617.6 292.0,1616.7 295.2,1615.9 298.3,1615.1 301.5,1614.3 304.7,1613.5 307.8,1612.7 311.0,1612.0 314.2,1611.3 317.3,1610.5 320.5,1609.8 323.6,1609.1 326.8,1608.4 330.0,1607.8 333.1,1607.1 336.3,1606.5 339.5,1605.8 342.6,1605.2 345.8,1604.6 349.0,1603.9 352.1,1603.3 355.3,1602.8 358.5,1602.2 361.6,1601.6 364.8,1601.0 368.0,1600.5 371.1,1599.9 374.3,1599.4 377.4,1598.9 380.6,1598.3 383.8,1597.8 386.9,1597.3 390.1,1596.8 393.3,1596.3 396.4,1595.8 399.6,1595.3 402.8,1594.9 405.9,1594.4 409.1,1593.9 412.3,1593.5 415.4,1593.0 418.6,1592.6 421.7,1592.2 424.9,1591.7 428.1,1591.3 431.2,1590.9 434.4,1590.5 437.6,1590.1 440.7,1589.7 443.9,1589.3 447.1,1588.9 450.2,1588.5 453.4,1588.1 456.6,1587.7 459.7,1587.4 462.9,1587.0 466.0,1586.6 469.2,1586.3 472.4,1585.9 475.5,1585.6 478.7,1585.2 481.9,1584.9 485.0,1584.6 488.2,1584.2 491.4,1583.9 494.5,1583.6 497.7,1583.3 500.9,1583.0 504.0,1582.7 507.2,1582.4 510.4,1582.1 513.5,1581.8 516.7,1581.5 519.8,1581.2 523.0,1580.9 526.2,1580.6 529.3,1580.3 532.5,1580.1 535.7,1579.8 538.8,1579.5 542.0,1579.3 545.2,1579.0 548.3,1578.7 551.5,1578.5 554.7,1578.2 557.8,1578.0 561.0,1577.8 564.1,1577.5 567.3,1577.3 570.5,1577.0 573.6,1576.8 576.8,1576.6 580.0,1576.4 583.1,1576.1 586.3,1575.9 589.5,1575.7 592.6,1575.5 595.8,1575.3 599.0,1575.1 602.1,1574.9 605.3,1574.6 608.4,1574.4 611.6,1574.2 614.8,1574.1 617.9,1573.9 621.1,1573.7 624.3,1573.5 627.4,1573.3 630.6,1573.1 633.8,1572.9 636.9,1572.8 640.1,1572.6 643.3,1572.4 646.4,1572.2 649.6,1572.1 652.7,1571.9 655.9,1571.7 659.1,1571.6 662.2,1571.4 665.4,1571.2 668.6,1571.1 671.7,1570.9 674.9,1570.8 678.1,1570.6 681.2,1570.5 684.4,1570.3 687.6,1570.2 690.7,1570.0 693.9,1569.9 697.1,1569.8 700.2,1569.6 703.4,1569.5 706.5,1569.3 709.7,1569.2 712.9,1569.1 716.0,1568.9 719.2,1568.8 722.4,1568.7 725.5,1568.6 728.7,1568.4 731.9,1568.3 735.0,1568.2 738.2,1568.1 741.4,1568.0 744.5,1567.9 747.7,1567.7 750.8,1567.6 754.0,1567.5 757.2,1567.4 760.3,1567.3 763.5,1567.2 766.7,1567.1 769.8,1567.0 773.0,1566.9 776.2,1566.8 779.3,1566.7 782.5,1566.6 785.7,1566.5 788.8,1566.4" fill="none" stroke="#4359a8" stroke-width="2"/>
<circle cx="165.4" cy="1652.8" r="3" fill="#17924a"/>
<circle cx="171.8" cy="1626.5" r="3" fill="#17924a"/>
<circle cx="178.1" cy="1600.2" r="3" fill="#17924a"/>
<circle cx="184.5" cy="1583.4" r="3" fill="#17924a"/>
<circle cx="190.8" cy="1560.3" r="3" fill="#17924a"/>
<circle cx="197.2" cy="1551.2" r="3" fill="#17924a"/>
<circle cx="203.5" cy="1540.9" r="3" fill="#17924a"/>
<circle cx="209.9" cy="1528.1" r="3" fill="#17924a"/>
<circle cx="216.2" cy="1519.3" r="3" fill="#17924a"/>
<circle cx="222.6" cy="1505.2" r="3" fill="#17924a"/>
<circle cx="228.9" cy="1492.6" r="3" fill="#17924a"/>
<circle cx="235.2" cy="1485.2" r="3" fill="#17924a"/>
<circle cx="241.6" cy="1479.3" r="3" fill="#17924a"/>
<circle cx="247.9" cy="1466.7" r="3" fill="#17924a"/>
<circle cx="254.3" cy="1455.8" r="3" fill="#17924a"/>
<circle cx="260.6" cy="1454.5" r="3" fill="#17924a"/>
<circle cx="267.0" cy="1447.4" r="3" fill="#17924a"/>
<circle cx="273.3" cy="1443.1" r="3" fill="#17924a"/>
<circle cx="279.7" cy="1442.5" r="3" fill="#17924a"/>
<circle cx="286.0" cy="1434.1" r="3" fill="#17924a"/>
<circle cx="292.4" cy="1432.4" r="3" fill="#17924a"/>
<circle cx="298.7" cy="1427.2" r="3" fill="#17924a"/>
<circle cx="305.0" cy="1420.0" r="3" fill="#17924a"/>
<circle cx="311.4" cy="1411.0" r="3" fill="#17924a"/>
<circle cx="317.7" cy="1416.2" r="3" fill="#17924a"/>
<circle cx="324.1" cy="1403.2" r="3" fill="#17924a"/>
<circle cx="330.4" cy="1409.3" r="3" fill="#17924a"/>
<circle cx="336.8" cy="1404.2" r="3" fill="#17924a"/>
<circle cx="343.1" cy="1401.5" r="3" fill="#17924a"/>
<circle cx="349.5" cy="1397.3" r="3" fill="#17924a"/>
<circle cx="355.8" cy="1396.5" r="3" fill="#17924a"/>
<circle cx="362.2" cy="1398.4" r="3" fill="#17924a"/>
<circle cx="368.5" cy="1394.0" r="3" fill="#17924a"/>
<circle cx="374.9" cy="1394.4" r="3" fill="#17924a"/>
<circle cx="381.2" cy="1394.0" r="3" fill="#17924a"/>
<circle cx="387.5" cy="1389.7" r="3" fill="#17924a"/>
<circle cx="393.9" cy="1388.5" r="3" fill="#17924a"/>
<circle cx="400.2" cy="1379.8" r="3" fill="#17924a"/>
<circle cx="406.6" cy="1386.4" r="3" fill="#17924a"/>
<circle cx="412.9" cy="1380.6" r="3" fill="#17924a"/>
<circle cx="419.3" cy="1379.8" r="3" fill="#17924a"/>
<circle cx="425.6" cy="1376.3" r="3" fill="#17924a"/>
<circle cx="432.0" cy="1377.4" r="3" fill="#17924a"/>
<circle cx="438.3" cy="1378.2" r="3" fill="#17924a"/>
<circle cx="444.7" cy="1369.6" r="3" fill="#17924a"/>
<circle cx="451.0" cy="1371.6" r="3" fill="#17924a"/>
<circle cx="457.3" cy="1367.2" r="3" fill="#17924a"/>
<circle cx="463.7" cy="1371.6" r="3" fill="#17924a"/>
<circle cx="470.0" cy="1367.5" r="3" fill="#17924a"/>
<circle cx="476.4" cy="1375.1" r="3" fill="#17924a"/>
<circle cx="482.7" cy="1373.5" r="3" fill="#17924a"/>
<circle cx="489.1" cy="1375.1" r="3" fill="#17924a"/>
<circle cx="495.4" cy="1365.6" r="3" fill="#17924a"/>
<circle cx="501.8" cy="1374.3" r="3" fill="#17924a"/>
<circle cx="508.1" cy="1366.4" r="3" fill="#17924a"/>
<circle cx="514.5" cy="1366.9" r="3" fill="#17924a"/>
<circle cx="520.8" cy="1369.6" r="3" fill="#17924a"/>
<circle cx="527.1" cy="1361.2" r="3" fill="#17924a"/>
<circle cx="533.5" cy="1366.4" r="3" fill="#17924a"/>
<circle cx="539.8" cy="1369.9" r="3" fill="#17924a"/>
<circle cx="546.2" cy="1363.3" r="3" fill="#17924a"/>
<circle cx="552.5" cy="1359.6" r="3" fill="#17924a"/>
<circle cx="558.9" cy="1364.0" r="3" fill="#17924a"/>
<circle cx="565.2" cy="1362.5" r="3" fill="#17924a"/>
<circle cx="571.6" cy="1370.3" r="3" fill="#17924a"/>
<circle cx="577.9" cy="1368.0" r="3" fill="#17924a"/>
<circle cx="584.3" cy="1359.3" r="3" fill="#17924a"/>
<circle cx="590.6" cy="1366.1" r="3" fill="#17924a"/>
<circle cx="596.9" cy="1362.1" r="3" fill="#17924a"/>
<circle cx="603.3" cy="1365.3" r="3" fill="#17924a"/>
<circle cx="609.6" cy="1362.5" r="3" fill="#17924a"/>
<circle cx="616.0" cy="1357.3" r="3" fill="#17924a"/>
<circle cx="622.3" cy="1362.9" r="3" fill="#17924a"/>
<circle cx="628.7" cy="1359.6" r="3" fill="#17924a"/>
<circle cx="635.0" cy="1363.3" r="3" fill="#17924a"/>
<circle cx="641.4" cy="1359.3" r="3" fill="#17924a"/>
<circle cx="647.7" cy="1366.9" r="3" fill="#17924a"/>
<circle cx="654.1" cy="1354.6" r="3" fill="#17924a"/>
<circle cx="660.4" cy="1364.4" r="3" fill="#17924a"/>
<circle cx="666.8" cy="1352.7" r="3" fill="#17924a"/>
<circle cx="673.1" cy="1359.3" r="3" fill="#17924a"/>
<circle cx="679.4" cy="1355.1" r="3" fill="#17924a"/>
<circle cx="685.8" cy="1358.5" r="3" fill="#17924a"/>
<circle cx="692.1" cy="1358.1" r="3" fill="#17924a"/>
<circle cx="698.5" cy="1360.4" r="3" fill="#17924a"/>
<circle cx="704.8" cy="1363.6" r="3" fill="#17924a"/>
<circle cx="711.2" cy="1357.3" r="3" fill="#17924a"/>
<circle cx="717.5" cy="1359.3" r="3" fill="#17924a"/>
<circle cx="723.9" cy="1358.8" r="3" fill="#17924a"/>
<circle cx="730.2" cy="1362.5" r="3" fill="#17924a"/>
<circle cx="736.6" cy="1364.0" r="3" fill="#17924a"/>
<circle cx="742.9" cy="1366.1" r="3" fill="#17924a"/>
<circle cx="749.2" cy="1357.0" r="3" fill="#17924a"/>
<circle cx="755.6" cy="1364.5" r="3" fill="#17924a"/>
<circle cx="761.9" cy="1368.3" r="3" fill="#17924a"/>
<circle cx="768.3" cy="1362.5" r="3" fill="#17924a"/>
<circle cx="774.6" cy="1355.4" r="3" fill="#17924a"/>
<circle cx="781.0" cy="1364.8" r="3" fill="#17924a"/>
<circle cx="787.3" cy="1358.5" r="3" fill="#17924a"/>
<circle cx="165.4" cy="1688.6" r="3" fill="#4359a8"/>
<circle cx="171.8" cy="1676.0" r="3" fill="#4359a8"/>
<circle cx="178.1" cy="1670.7" r="3" fill="#4359a8"/>
<circle cx="184.5" cy="1663.3" r="3" fill="#4359a8"/>
<circle cx="190.8" cy="1654.9" r="3" fill="#4359a8"/>
<circle cx="197.2" cy="1651.8" r="3" fill="#4359a8"/>
<circle cx="203.5" cy="1645.5" r="3" fill="#4359a8"/>
<circle cx="209.9" cy="1643.4" r="3" fill="#4359a8"/>
<circle cx="216.2" cy="1639.1" r="3" fill="#4359a8"/>
<circle cx="222.6" cy="1638.7" r="3" fill="#4359a8"/>
<circle cx="228.9" cy="1632.8" r="3" fill="#4359a8"/>
<circle cx="235.2" cy="1632.8" r="3" fill="#4359a8"/>
<circle cx="241.6" cy="1626.1" r="3" fill="#4359a8"/>
<circle cx="247.9" cy="1628.6" r="3" fill="#4359a8"/>
<circle cx="254.3" cy="1619.8" r="3" fill="#4359a8"/>
<circle cx="260.6" cy="1623.4" r="3" fill="#4359a8"/>
<circle cx="267.0" cy="1620.6" r="3" fill="#4359a8"/>
<circle cx="273.3" cy="1617.7" r="3" fill="#4359a8"/>
<circle cx="279.7" cy="1618.5" r="3" fill="#4359a8"/>
<circle cx="286.0" cy="1615.0" r="3" fill="#4359a8"/>
<circle cx="292.4" cy="1612.9" r="3" fill="#4359a8"/>
<circle cx="298.7" cy="1609.7" r="3" fill="#4359a8"/>
<circle cx="305.0" cy="1609.3" r="3" fill="#4359a8"/>
<circle cx="311.4" cy="1609.7" r="3" fill="#4359a8"/>
<circle cx="317.7" cy="1604.0" r="3" fill="#4359a8"/>
<circle cx="324.1" cy="1607.6" r="3" fill="#4359a8"/>
<circle cx="330.4" cy="1603.4" r="3" fill="#4359a8"/>
<circle cx="336.8" cy="1604.0" r="3" fill="#4359a8"/>
<circle cx="343.1" cy="1600.9" r="3" fill="#4359a8"/>
<circle cx="349.5" cy="1604.0" r="3" fill="#4359a8"/>
<circle cx="355.8" cy="1599.0" r="3" fill="#4359a8"/>
<circle cx="362.2" cy="1603.3" r="3" fill="#4359a8"/>
<circle cx="368.5" cy="1597.4" r="3" fill="#4359a8"/>
<circle cx="374.9" cy="1599.3" r="3" fill="#4359a8"/>
<circle cx="381.2" cy="1598.5" r="3" fill="#4359a8"/>
<circle cx="387.5" cy="1598.5" r="3" fill="#4359a8"/>
<circle cx="393.9" cy="1592.2" r="3" fill="#4359a8"/>
<circle cx="400.2" cy="1597.4" r="3" fill="#4359a8"/>
<circle cx="406.6" cy="1591.4" r="3" fill="#4359a8"/>
<circle cx="412.9" cy="1599.3" r="3" fill="#4359a8"/>
<circle cx="419.3" cy="1590.6" r="3" fill="#4359a8"/>
<circle cx="425.6" cy="1594.9" r="3" fill="#4359a8"/>
<circle cx="432.0" cy="1591.4" r="3" fill="#4359a8"/>
<circle cx="438.3" cy="1593.8" r="3" fill="#4359a8"/>
<circle cx="444.7" cy="1588.3" r="3" fill="#4359a8"/>
<circle cx="451.0" cy="1590.6" r="3" fill="#4359a8"/>
<circle cx="457.3" cy="1587.0" r="3" fill="#4359a8"/>
<circle cx="463.7" cy="1589.5" r="3" fill="#4359a8"/>
<circle cx="470.0" cy="1586.7" r="3" fill="#4359a8"/>
<circle cx="476.4" cy="1588.6" r="3" fill="#4359a8"/>
<circle cx="482.7" cy="1584.3" r="3" fill="#4359a8"/>
<circle cx="489.1" cy="1582.3" r="3" fill="#4359a8"/>
<circle cx="495.4" cy="1584.7" r="3" fill="#4359a8"/>
<circle cx="501.8" cy="1585.5" r="3" fill="#4359a8"/>
<circle cx="508.1" cy="1583.9" r="3" fill="#4359a8"/>
<circle cx="514.5" cy="1585.1" r="3" fill="#4359a8"/>
<circle cx="520.8" cy="1580.1" r="3" fill="#4359a8"/>
<circle cx="527.1" cy="1584.3" r="3" fill="#4359a8"/>
<circle cx="533.5" cy="1582.8" r="3" fill="#4359a8"/>
<circle cx="539.8" cy="1584.3" r="3" fill="#4359a8"/>
<circle cx="546.2" cy="1577.6" r="3" fill="#4359a8"/>
<circle cx="552.5" cy="1583.9" r="3" fill="#4359a8"/>
<circle cx="558.9" cy="1578.0" r="3" fill="#4359a8"/>
<circle cx="565.2" cy="1581.2" r="3" fill="#4359a8"/>
<circle cx="571.6" cy="1579.6" r="3" fill="#4359a8"/>
<circle cx="577.9" cy="1580.4" r="3" fill="#4359a8"/>
<circle cx="584.3" cy="1574.1" r="3" fill="#4359a8"/>
<circle cx="590.6" cy="1581.2" r="3" fill="#4359a8"/>
<circle cx="596.9" cy="1576.5" r="3" fill="#4359a8"/>
<circle cx="603.3" cy="1576.9" r="3" fill="#4359a8"/>
<circle cx="609.6" cy="1577.3" r="3" fill="#4359a8"/>
<circle cx="616.0" cy="1574.4" r="3" fill="#4359a8"/>
<circle cx="622.3" cy="1576.2" r="3" fill="#4359a8"/>
<circle cx="628.7" cy="1574.4" r="3" fill="#4359a8"/>
<circle cx="635.0" cy="1575.4" r="3" fill="#4359a8"/>
<circle cx="641.4" cy="1576.6" r="3" fill="#4359a8"/>
<circle cx="647.7" cy="1576.6" r="3" fill="#4359a8"/>
<circle cx="654.1" cy="1578.4" r="3" fill="#4359a8"/>
<circle cx="660.4" cy="1575.7" r="3" fill="#4359a8"/>
<circle cx="666.8" cy="1577.3" r="3" fill="#4359a8"/>
<circle cx="673.1" cy="1571.7" r="3" fill="#4359a8"/>
<circle cx="679.4" cy="1575.2" r="3" fill="#4359a8"/>
<circle cx="685.8" cy="1573.8" r="3" fill="#4359a8"/>
<circle cx="692.1" cy="1574.4" r="3" fill="#4359a8"/>
<circle cx="698.5" cy="1573.8" r="3" fill="#4359a8"/>
<circle cx="704.8" cy="1573.8" r="3" fill="#4359a8"/>
<circle cx="711.2" cy="1576.2" r="3" fill="#4359a8"/>
<circle cx="717.5" cy="1574.6" r="3" fill="#4359a8"/>
<circle cx="723.9" cy="1570.5" r="3" fill="#4359a8"/>
<circle cx="730.2" cy="1574.1" r="3" fill="#4359a8"/>
<circle cx="736.6" cy="1568.6" r="3" fill="#4359a8"/>
<circle cx="742.9" cy="1573.8" r="3" fill="#4359a8"/>
<circle cx="749.2" cy="1572.2" r="3" fill="#4359a8"/>
<circle cx="755.6" cy="1570.5" r="3" fill="#4359a8"/>
<circle cx="761.9" cy="1570.6" r="3" fill="#4359a8"/>
<circle cx="768.3" cy="1570.6" r="3" fill="#4359a8"/>
<circle cx="774.6" cy="1571.7" r="3" fill="#4359a8"/>
<circle cx="781.0" cy="1570.6" r="3" fill="#4359a8"/>
<circle cx="787.3" cy="1565.9" r="3" fill="#4359a8"/>
<line x1="159.1" y1="1362.5" x2="789.5" y2="1362.5" stroke="#17924a" stroke-width="1.8" stroke-dasharray="22 12.7"/>
<line x1="159.1" y1="1558.9" x2="789.5" y2="1558.9" stroke="#4359a8" stroke-width="1.8" stroke-dasharray="22 12.7"/>
<line x1="159.1" y1="1290.2" x2="159.1" y2="1710.0" stroke="#000" stroke-width="2" />
<line x1="158.3" y1="1709.2" x2="789.5" y2="1709.2" stroke="#000" stroke-width="2" />
<line x1="150.2" y1="1709.2" x2="159.1" y2="1709.2" stroke="#000" stroke-width="2" />
<text x="137.0" y="1718.8" font-size="29" text-anchor="end" font-weight="normal" fill="#000" >0.0</text>
<line x1="150.2" y1="1636.6" x2="159.1" y2="1636.6" stroke="#000" stroke-width="2" />
<text x="137.0" y="1646.2" font-size="29" text-anchor="end" font-weight="normal" fill="#000" >0.2</text>
<line x1="150.2" y1="1564.0" x2="159.1" y2="1564.0" stroke="#000" stroke-width="2" />
<text x="137.0" y="1573.6" font-size="29" text-anchor="end" font-weight="normal" fill="#000" >0.4</text>
<line x1="150.2" y1="1491.4" x2="159.1" y2="1491.4" stroke="#000" stroke-width="2" />
<text x="137.0" y="1501.0" font-size="29" text-anchor="end" font-weight="normal" fill="#000" >0.6</text>
<line x1="150.2" y1="1418.8" x2="159.1" y2="1418.8" stroke="#000" stroke-width="2" />
<text x="137.0" y="1428.4" font-size="29" text-anchor="end" font-weight="normal" fill="#000" >0.8</text>
<line x1="150.2" y1="1346.2" x2="159.1" y2="1346.2" stroke="#000" stroke-width="2" />
<text x="137.0" y="1355.8" font-size="29" text-anchor="end" font-weight="normal" fill="#000" >1.0</text>
<line x1="159.1" y1="1709.2" x2="159.1" y2="1719.8" stroke="#000" stroke-width="2" />
<text x="159.1" y="1754.8" font-size="29" text-anchor="middle" font-weight="normal" fill="#000" >0</text>
<line x1="280.2" y1="1709.2" x2="280.2" y2="1719.8" stroke="#000" stroke-width="2" />
<text x="280.2" y="1754.8" font-size="29" text-anchor="middle" font-weight="normal" fill="#000" >10</text>
<line x1="401.3" y1="1709.2" x2="401.3" y2="1719.8" stroke="#000" stroke-width="2" />
<text x="401.3" y="1754.8" font-size="29" text-anchor="middle" font-weight="normal" fill="#000" >20</text>
<line x1="522.4" y1="1709.2" x2="522.4" y2="1719.8" stroke="#000" stroke-width="2" />
<text x="522.4" y="1754.8" font-size="29" text-anchor="middle" font-weight="normal" fill="#000" >30</text>
<line x1="643.5" y1="1709.2" x2="643.5" y2="1719.8" stroke="#000" stroke-width="2" />
<text x="643.5" y="1754.8" font-size="29" text-anchor="middle" font-weight="normal" fill="#000" >40</text>
<line x1="764.6" y1="1709.2" x2="764.6" y2="1719.8" stroke="#000" stroke-width="2" />
<text x="764.6" y="1754.8" font-size="29" text-anchor="middle" font-weight="normal" fill="#000" >50</text>
<circle cx="159.1" cy="1709.2" r="3.2" fill="#4359a8"/>
<text x="479.5" y="1800" font-size="29" text-anchor="middle"><tspan font-style="italic">t</tspan> (s)</text>
<text x="0" y="0" font-size="29" text-anchor="middle" transform="translate(65.7,1499.5) rotate(-90)">Normalized intensity</text>
<g clip-path="url(#cf8501332)"><rect x="850.7" y="1332.4" width="156" height="156" fill="#141349"/>
<rect x="850.7" y="1332.4" width="156" height="156" fill="#141349" filter="url(#fnoise)" opacity="0.6"/>
<circle cx="879.7" cy="1347.1000000000001" r="3.9000000000000004" fill="url(#fdot)"/>
<circle cx="905.5" cy="1347.1000000000001" r="3.0" fill="url(#fdot)"/>
<circle cx="947.2" cy="1339.2" r="4.199999999999999" fill="url(#fdot)"/>
<circle cx="965.1" cy="1359.1000000000001" r="8.25" fill="url(#fdot)"/>
<circle cx="998.9000000000001" cy="1357.1000000000001" r="3.3000000000000003" fill="url(#fdot)"/>
<circle cx="994.9000000000001" cy="1382.9" r="3.9000000000000004" fill="url(#fdot)"/>
<circle cx="853.8000000000001" cy="1434.5" r="3.5999999999999996" fill="url(#fdot)"/>
<circle cx="893.6" cy="1472.3000000000002" r="3.5999999999999996" fill="url(#fdot)"/>
<circle cx="889.6" cy="1378.9" r="2.7" fill="url(#fdot)"/>
<circle cx="999.7" cy="1478.2" r="5.25" fill="url(#fdot)"/>
<circle cx="858.7" cy="1362.4" r="2.25" fill="url(#fdot)"/>
<ellipse cx="940.9" cy="1413.2" rx="43" ry="38" fill="url(#frap)"/>
<ellipse cx="940.9" cy="1413.2" rx="43" ry="38" fill="#000" filter="url(#speck)" opacity="0.35"/>
</g>
<g clip-path="url(#cf10401332)"><rect x="1040.6" y="1332.4" width="156" height="156" fill="#141349"/>
<rect x="1040.6" y="1332.4" width="156" height="156" fill="#141349" filter="url(#fnoise)" opacity="0.6"/>
<circle cx="1069.6" cy="1347.1000000000001" r="3.9000000000000004" fill="url(#fdot)"/>
<circle cx="1095.3999999999999" cy="1347.1000000000001" r="3.0" fill="url(#fdot)"/>
<circle cx="1137.1" cy="1339.2" r="4.199999999999999" fill="url(#fdot)"/>
<circle cx="1155.0" cy="1359.1000000000001" r="8.25" fill="url(#fdot)"/>
<circle cx="1188.8" cy="1357.1000000000001" r="3.3000000000000003" fill="url(#fdot)"/>
<circle cx="1184.8" cy="1382.9" r="3.9000000000000004" fill="url(#fdot)"/>
<circle cx="1043.6999999999998" cy="1434.5" r="3.5999999999999996" fill="url(#fdot)"/>
<circle cx="1083.5" cy="1472.3000000000002" r="3.5999999999999996" fill="url(#fdot)"/>
<circle cx="1079.5" cy="1378.9" r="2.7" fill="url(#fdot)"/>
<circle cx="1189.6" cy="1478.2" r="5.25" fill="url(#fdot)"/>
<circle cx="1048.6" cy="1362.4" r="2.25" fill="url(#fdot)"/>
<ellipse cx="1131" cy="1413.2" rx="43" ry="38" fill="url(#frap)"/>
<circle cx="1124" cy="1424.6" r="12" fill="url(#bspot)"/>
<ellipse cx="1131" cy="1413.2" rx="43" ry="38" fill="#000" filter="url(#speck)" opacity="0.35"/>
</g>
<g clip-path="url(#cf12341332)"><rect x="1234" y="1332.4" width="156" height="156" fill="#141349"/>
<rect x="1234" y="1332.4" width="156" height="156" fill="#141349" filter="url(#fnoise)" opacity="0.6"/>
<circle cx="1263" cy="1347.1000000000001" r="3.9000000000000004" fill="url(#fdot)"/>
<circle cx="1288.8" cy="1347.1000000000001" r="3.0" fill="url(#fdot)"/>
<circle cx="1330.5" cy="1339.2" r="4.199999999999999" fill="url(#fdot)"/>
<circle cx="1348.4" cy="1359.1000000000001" r="8.25" fill="url(#fdot)"/>
<circle cx="1382.2" cy="1357.1000000000001" r="3.3000000000000003" fill="url(#fdot)"/>
<circle cx="1378.2" cy="1382.9" r="3.9000000000000004" fill="url(#fdot)"/>
<circle cx="1237.1" cy="1434.5" r="3.5999999999999996" fill="url(#fdot)"/>
<circle cx="1276.9" cy="1472.3000000000002" r="3.5999999999999996" fill="url(#fdot)"/>
<circle cx="1272.9" cy="1378.9" r="2.7" fill="url(#fdot)"/>
<circle cx="1383" cy="1478.2" r="5.25" fill="url(#fdot)"/>
<circle cx="1242" cy="1362.4" r="2.25" fill="url(#fdot)"/>
<ellipse cx="1323.7" cy="1413.2" rx="43" ry="38" fill="url(#frap)"/>
<ellipse cx="1323.7" cy="1413.2" rx="43" ry="38" fill="#000" filter="url(#speck)" opacity="0.35"/>
</g>
<g clip-path="url(#cf8501589)"><rect x="850.7" y="1589.3" width="156" height="156" fill="#141349"/>
<rect x="850.7" y="1589.3" width="156" height="156" fill="#141349" filter="url(#fnoise)" opacity="0.6"/>
<circle cx="855.7" cy="1614.3" r="8.25" fill="url(#pdot)"/>
<circle cx="881.7" cy="1617.3" r="3.3000000000000003" fill="url(#fdot)"/>
<circle cx="987.7" cy="1595.3" r="3.5999999999999996" fill="url(#fdot)"/>
<circle cx="995.7" cy="1739.3" r="3.0" fill="url(#fdot)"/>
<circle cx="855.7" cy="1714.3" r="2.25" fill="url(#fdot)"/>
<ellipse cx="930.1" cy="1667.7" rx="34.5" ry="36.5" fill="url(#frap)"/>
<ellipse cx="930.1" cy="1667.7" rx="34.5" ry="36.5" fill="#000" filter="url(#speck)" opacity="0.35"/>
</g>
<g clip-path="url(#cf10401589)"><rect x="1040.6" y="1589.3" width="156" height="156" fill="#141349"/>
<rect x="1040.6" y="1589.3" width="156" height="156" fill="#141349" filter="url(#fnoise)" opacity="0.6"/>
<circle cx="1045.6" cy="1614.3" r="8.25" fill="url(#pdot)"/>
<circle cx="1071.6" cy="1617.3" r="3.3000000000000003" fill="url(#fdot)"/>
<circle cx="1177.6" cy="1595.3" r="3.5999999999999996" fill="url(#fdot)"/>
<circle cx="1185.6" cy="1739.3" r="3.0" fill="url(#fdot)"/>
<circle cx="1045.6" cy="1714.3" r="2.25" fill="url(#fdot)"/>
<ellipse cx="1120" cy="1667.8" rx="35" ry="37" fill="url(#frap)"/>
<circle cx="1110.4" cy="1675.1" r="11.5" fill="url(#bspot2)"/>
<ellipse cx="1120" cy="1667.8" rx="35" ry="37" fill="#000" filter="url(#speck)" opacity="0.35"/>
</g>
<g clip-path="url(#cf12341589)"><rect x="1234" y="1589.3" width="156" height="156" fill="#141349"/>
<rect x="1234" y="1589.3" width="156" height="156" fill="#141349" filter="url(#fnoise)" opacity="0.6"/>
<circle cx="1239" cy="1614.3" r="8.25" fill="url(#pdot)"/>
<circle cx="1265" cy="1617.3" r="3.3000000000000003" fill="url(#fdot)"/>
<circle cx="1371" cy="1595.3" r="3.5999999999999996" fill="url(#fdot)"/>
<circle cx="1379" cy="1739.3" r="3.0" fill="url(#fdot)"/>
<circle cx="1239" cy="1714.3" r="2.25" fill="url(#fdot)"/>
<ellipse cx="1311.7" cy="1668.8" rx="33.5" ry="34.5" fill="url(#frap)"/>
<circle cx="1302.8" cy="1674.7" r="9" fill="url(#bspot3)"/>
<ellipse cx="1311.7" cy="1668.8" rx="33.5" ry="34.5" fill="#000" filter="url(#speck)" opacity="0.35"/>
</g>
<rect x="949.2" y="1465.1" width="50.4" height="15.9" fill="#fff"/>
<rect x="952.4" y="1717.6" width="49.6" height="15.9" fill="#fff"/>
<text x="1123.6" y="1262.9" font-size="29" text-anchor="middle" font-weight="normal" fill="#000" >Early time point</text>
<line x1="853.0" y1="1284.4" x2="1388.2" y2="1284.4" stroke="#000" stroke-width="2.6" />
<text x="1123.6" y="1521.0" font-size="29" text-anchor="middle" font-weight="normal" fill="#000" >Late time point</text>
<line x1="853.0" y1="1542.8" x2="1388.2" y2="1542.8" stroke="#000" stroke-width="2.6" />
<text x="929.0" y="1315.4" font-size="29" text-anchor="middle" font-weight="normal" fill="#000" >Prebleach</text>
<text x="1117.5" y="1315.4" font-size="29" text-anchor="middle" font-weight="normal" fill="#000" >Bleach</text>
<text x="1311.7" y="1315.4" font-size="29" text-anchor="middle" font-weight="normal" fill="#000" >Recovery</text>
<text x="929.0" y="1574.2" font-size="29" text-anchor="middle" font-weight="normal" fill="#000" >Prebleach</text>
<text x="1117.5" y="1574.2" font-size="29" text-anchor="middle" font-weight="normal" fill="#000" >Bleach</text>
<text x="1311.7" y="1574.2" font-size="29" text-anchor="middle" font-weight="normal" fill="#000" >Recovery</text>
</g>
</svg></body></html>
